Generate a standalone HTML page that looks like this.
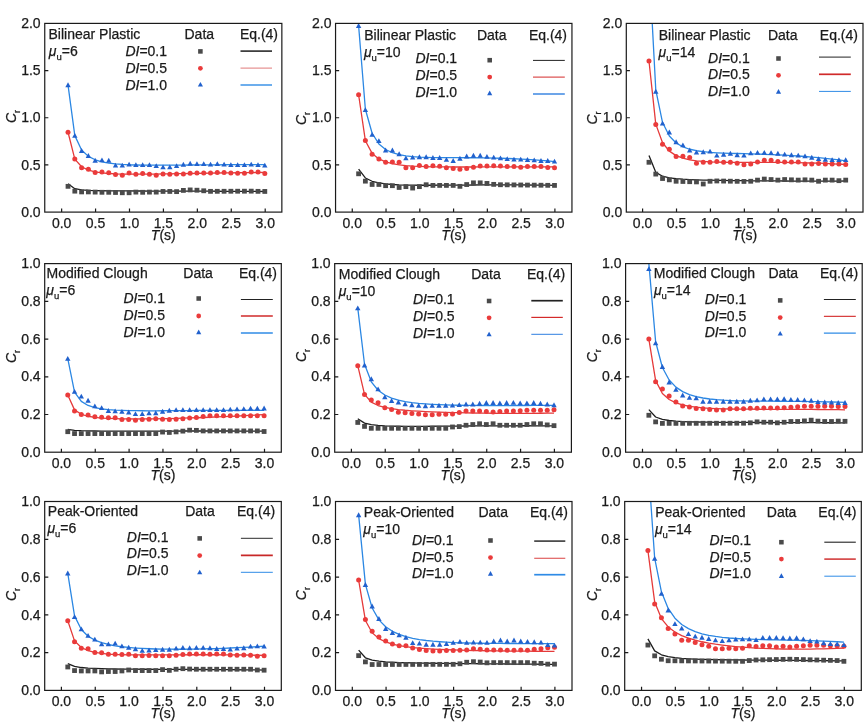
<!DOCTYPE html><html><head><meta charset="utf-8"><style>html,body{margin:0;padding:0;background:#fff;width:866px;height:725px;overflow:hidden;}svg{display:block;}</style></head><body>
<svg width="866" height="725" viewBox="0 0 866 725" style="font-family:'Liberation Sans',Arial,sans-serif"><style>text{stroke:#1a1a1a;stroke-width:0.25px;}</style>
<rect width="866" height="725" fill="#fff"/>
<clipPath id="c00"><rect x="44.75" y="23.4" width="237.14999999999998" height="188.7"/></clipPath>
<g clip-path="url(#c00)">
<polyline points="68.03,183.79 74.81,188.71 81.60,189.88 88.38,190.35 95.17,190.59 101.95,190.73 108.74,190.82 115.52,190.88 122.31,190.92 129.09,190.95 135.88,190.98 142.66,191.00 149.45,191.03 156.23,191.05 163.02,191.06 169.81,191.08 176.59,191.10 183.38,191.13 190.16,191.15 196.95,191.17 203.73,191.20 210.52,191.22 217.30,191.25 224.09,191.28 230.87,191.31 237.66,191.35 244.44,191.39 251.23,191.42 258.01,191.46 264.80,191.51" fill="none" stroke="#1e1e1e" stroke-width="1.3" stroke-linejoin="round"/>
<polyline points="68.03,132.28 74.81,159.07 81.60,166.75 88.38,170.13 95.17,171.90 101.95,172.92 108.74,173.52 115.52,173.87 122.31,174.07 129.09,174.17 135.88,174.20 142.66,174.17 149.45,174.12 156.23,174.04 163.02,173.94 169.81,173.83 176.59,173.72 183.38,173.60 190.16,173.48 196.95,173.36 203.73,173.24 210.52,173.13 217.30,173.02 224.09,172.92 230.87,172.82 237.66,172.73 244.44,172.64 251.23,172.57 258.01,172.50 264.80,172.44" fill="none" stroke="#e53a3a" stroke-width="1.3" stroke-linejoin="round"/>
<polyline points="68.03,85.10 74.81,135.60 81.60,149.99 88.38,156.37 95.17,159.79 101.95,161.81 108.74,163.08 115.52,163.90 122.31,164.43 129.09,164.78 135.88,165.00 142.66,165.13 149.45,165.20 156.23,165.22 163.02,165.21 169.81,165.18 176.59,165.13 183.38,165.07 190.16,165.01 196.95,164.95 203.73,164.89 210.52,164.83 217.30,164.78 224.09,164.74 230.87,164.70 237.66,164.68 244.44,164.66 251.23,164.66 258.01,164.67 264.80,164.69" fill="none" stroke="#2b87e3" stroke-width="1.3" stroke-linejoin="round"/>
<rect x="65.63" y="183.94" width="4.80" height="4.80" fill="#4a4a4a"/>
<rect x="72.41" y="188.75" width="4.80" height="4.80" fill="#4a4a4a"/>
<rect x="79.20" y="189.51" width="4.80" height="4.80" fill="#4a4a4a"/>
<rect x="85.98" y="189.51" width="4.80" height="4.80" fill="#4a4a4a"/>
<rect x="92.77" y="189.70" width="4.80" height="4.80" fill="#4a4a4a"/>
<rect x="99.55" y="189.89" width="4.80" height="4.80" fill="#4a4a4a"/>
<rect x="106.34" y="189.89" width="4.80" height="4.80" fill="#4a4a4a"/>
<rect x="113.12" y="190.08" width="4.80" height="4.80" fill="#4a4a4a"/>
<rect x="119.91" y="190.36" width="4.80" height="4.80" fill="#4a4a4a"/>
<rect x="126.69" y="190.36" width="4.80" height="4.80" fill="#4a4a4a"/>
<rect x="133.48" y="189.70" width="4.80" height="4.80" fill="#4a4a4a"/>
<rect x="140.26" y="189.89" width="4.80" height="4.80" fill="#4a4a4a"/>
<rect x="147.05" y="189.70" width="4.80" height="4.80" fill="#4a4a4a"/>
<rect x="153.83" y="189.70" width="4.80" height="4.80" fill="#4a4a4a"/>
<rect x="160.62" y="189.04" width="4.80" height="4.80" fill="#4a4a4a"/>
<rect x="167.41" y="189.04" width="4.80" height="4.80" fill="#4a4a4a"/>
<rect x="174.19" y="189.23" width="4.80" height="4.80" fill="#4a4a4a"/>
<rect x="180.98" y="188.00" width="4.80" height="4.80" fill="#4a4a4a"/>
<rect x="187.76" y="187.53" width="4.80" height="4.80" fill="#4a4a4a"/>
<rect x="194.55" y="187.81" width="4.80" height="4.80" fill="#4a4a4a"/>
<rect x="201.33" y="188.38" width="4.80" height="4.80" fill="#4a4a4a"/>
<rect x="208.12" y="188.94" width="4.80" height="4.80" fill="#4a4a4a"/>
<rect x="214.90" y="188.91" width="4.80" height="4.80" fill="#4a4a4a"/>
<rect x="221.69" y="188.88" width="4.80" height="4.80" fill="#4a4a4a"/>
<rect x="228.47" y="188.85" width="4.80" height="4.80" fill="#4a4a4a"/>
<rect x="235.26" y="188.82" width="4.80" height="4.80" fill="#4a4a4a"/>
<rect x="242.04" y="188.79" width="4.80" height="4.80" fill="#4a4a4a"/>
<rect x="248.83" y="188.75" width="4.80" height="4.80" fill="#4a4a4a"/>
<rect x="255.61" y="188.94" width="4.80" height="4.80" fill="#4a4a4a"/>
<rect x="262.40" y="189.04" width="4.80" height="4.80" fill="#4a4a4a"/>
<circle cx="68.03" cy="132.28" r="2.50" fill="#ea3b3b"/>
<circle cx="74.81" cy="158.89" r="2.50" fill="#ea3b3b"/>
<circle cx="81.60" cy="167.66" r="2.50" fill="#ea3b3b"/>
<circle cx="88.38" cy="169.27" r="2.50" fill="#ea3b3b"/>
<circle cx="95.17" cy="172.57" r="2.50" fill="#ea3b3b"/>
<circle cx="101.95" cy="172.00" r="2.50" fill="#ea3b3b"/>
<circle cx="108.74" cy="172.66" r="2.50" fill="#ea3b3b"/>
<circle cx="115.52" cy="174.55" r="2.50" fill="#ea3b3b"/>
<circle cx="122.31" cy="175.30" r="2.50" fill="#ea3b3b"/>
<circle cx="129.09" cy="172.94" r="2.50" fill="#ea3b3b"/>
<circle cx="135.88" cy="174.36" r="2.50" fill="#ea3b3b"/>
<circle cx="142.66" cy="173.42" r="2.50" fill="#ea3b3b"/>
<circle cx="149.45" cy="174.36" r="2.50" fill="#ea3b3b"/>
<circle cx="156.23" cy="175.30" r="2.50" fill="#ea3b3b"/>
<circle cx="163.02" cy="173.89" r="2.50" fill="#ea3b3b"/>
<circle cx="169.81" cy="174.36" r="2.50" fill="#ea3b3b"/>
<circle cx="176.59" cy="174.08" r="2.50" fill="#ea3b3b"/>
<circle cx="183.38" cy="173.89" r="2.50" fill="#ea3b3b"/>
<circle cx="190.16" cy="173.13" r="2.50" fill="#ea3b3b"/>
<circle cx="196.95" cy="172.94" r="2.50" fill="#ea3b3b"/>
<circle cx="203.73" cy="172.94" r="2.50" fill="#ea3b3b"/>
<circle cx="210.52" cy="172.94" r="2.50" fill="#ea3b3b"/>
<circle cx="217.30" cy="172.47" r="2.50" fill="#ea3b3b"/>
<circle cx="224.09" cy="172.47" r="2.50" fill="#ea3b3b"/>
<circle cx="230.87" cy="172.94" r="2.50" fill="#ea3b3b"/>
<circle cx="237.66" cy="173.13" r="2.50" fill="#ea3b3b"/>
<circle cx="244.44" cy="173.13" r="2.50" fill="#ea3b3b"/>
<circle cx="251.23" cy="171.91" r="2.50" fill="#ea3b3b"/>
<circle cx="258.01" cy="171.91" r="2.50" fill="#ea3b3b"/>
<circle cx="264.80" cy="173.42" r="2.50" fill="#ea3b3b"/>
<path d="M65.33,87.23L70.73,87.23L68.03,82.37Z" fill="#2161cd"/>
<path d="M72.11,137.81L77.51,137.81L74.81,132.95Z" fill="#2161cd"/>
<path d="M78.90,152.90L84.30,152.90L81.60,148.04Z" fill="#2161cd"/>
<path d="M85.68,157.90L91.08,157.90L88.38,153.04Z" fill="#2161cd"/>
<path d="M92.47,162.71L97.87,162.71L95.17,157.85Z" fill="#2161cd"/>
<path d="M99.25,162.34L104.65,162.34L101.95,157.48Z" fill="#2161cd"/>
<path d="M106.04,162.71L111.44,162.71L108.74,157.85Z" fill="#2161cd"/>
<path d="M112.82,167.62L118.22,167.62L115.52,162.76Z" fill="#2161cd"/>
<path d="M119.61,167.62L125.01,167.62L122.31,162.76Z" fill="#2161cd"/>
<path d="M126.39,166.49L131.79,166.49L129.09,161.63Z" fill="#2161cd"/>
<path d="M133.18,167.06L138.58,167.06L135.88,162.19Z" fill="#2161cd"/>
<path d="M139.96,167.06L145.36,167.06L142.66,162.19Z" fill="#2161cd"/>
<path d="M146.75,167.06L152.15,167.06L149.45,162.19Z" fill="#2161cd"/>
<path d="M153.53,168.09L158.93,168.09L156.23,163.23Z" fill="#2161cd"/>
<path d="M160.32,169.32L165.72,169.32L163.02,164.46Z" fill="#2161cd"/>
<path d="M167.11,169.32L172.51,169.32L169.81,164.46Z" fill="#2161cd"/>
<path d="M173.89,168.00L179.29,168.00L176.59,163.14Z" fill="#2161cd"/>
<path d="M180.68,166.68L186.08,166.68L183.38,161.82Z" fill="#2161cd"/>
<path d="M187.46,165.73L192.86,165.73L190.16,160.87Z" fill="#2161cd"/>
<path d="M194.25,166.11L199.65,166.11L196.95,161.25Z" fill="#2161cd"/>
<path d="M201.03,166.11L206.43,166.11L203.73,161.25Z" fill="#2161cd"/>
<path d="M207.82,166.49L213.22,166.49L210.52,161.63Z" fill="#2161cd"/>
<path d="M214.60,166.11L220.00,166.11L217.30,161.25Z" fill="#2161cd"/>
<path d="M221.39,166.49L226.79,166.49L224.09,161.63Z" fill="#2161cd"/>
<path d="M228.17,167.06L233.57,167.06L230.87,162.19Z" fill="#2161cd"/>
<path d="M234.96,167.06L240.36,167.06L237.66,162.19Z" fill="#2161cd"/>
<path d="M241.74,167.06L247.14,167.06L244.44,162.19Z" fill="#2161cd"/>
<path d="M248.53,166.49L253.93,166.49L251.23,161.63Z" fill="#2161cd"/>
<path d="M255.31,167.06L260.71,167.06L258.01,162.19Z" fill="#2161cd"/>
<path d="M262.10,167.53L267.50,167.53L264.80,162.67Z" fill="#2161cd"/>
</g>
<rect x="44.75" y="23.4" width="237.1" height="188.7" fill="none" stroke="#1a1a1a" stroke-width="1.2"/>
<text x="61.64" y="227.50" font-size="14.0" text-anchor="middle" fill="#1a1a1a">0.0</text>
<text x="95.57" y="227.50" font-size="14.0" text-anchor="middle" fill="#1a1a1a">0.5</text>
<text x="129.49" y="227.50" font-size="14.0" text-anchor="middle" fill="#1a1a1a">1.0</text>
<text x="163.42" y="227.50" font-size="14.0" text-anchor="middle" fill="#1a1a1a">1.5</text>
<text x="197.35" y="227.50" font-size="14.0" text-anchor="middle" fill="#1a1a1a">2.0</text>
<text x="231.27" y="227.50" font-size="14.0" text-anchor="middle" fill="#1a1a1a">2.5</text>
<text x="265.20" y="227.50" font-size="14.0" text-anchor="middle" fill="#1a1a1a">3.0</text>
<text x="40.65" y="216.80" font-size="14.0" text-anchor="end" fill="#1a1a1a">0.0</text>
<text x="40.65" y="169.62" font-size="14.0" text-anchor="end" fill="#1a1a1a">0.5</text>
<text x="40.65" y="122.45" font-size="14.0" text-anchor="end" fill="#1a1a1a">1.0</text>
<text x="40.65" y="75.28" font-size="14.0" text-anchor="end" fill="#1a1a1a">1.5</text>
<text x="40.65" y="28.10" font-size="14.0" text-anchor="end" fill="#1a1a1a">2.0</text>
<path d="M61.64,212.10v-3.6 M95.57,212.10v-3.6 M129.49,212.10v-3.6 M163.42,212.10v-3.6 M197.35,212.10v-3.6 M231.27,212.10v-3.6 M265.20,212.10v-3.6 M44.75,164.93h3.6 M44.75,117.75h3.6 M44.75,70.58h3.6" stroke="#1a1a1a" stroke-width="1.2" fill="none"/>
<text transform="translate(15.95,123.00) rotate(-90)" font-size="14.0" fill="#1a1a1a"><tspan font-style="italic">C</tspan><tspan font-size="9" dy="3.8">r</tspan></text>
<text x="163.32" y="239.80" font-size="14.0" text-anchor="middle" fill="#1a1a1a"><tspan font-style="italic">T</tspan>(s)</text>
<text x="48.50" y="38.80" font-size="14.0" fill="#1a1a1a">Bilinear Plastic</text>
<text x="48.80" y="55.80" font-size="14.0" fill="#1a1a1a"><tspan font-style="italic">μ</tspan><tspan font-size="9.5" dy="4">u</tspan><tspan dy="-4">=6</tspan></text>
<text x="125.40" y="55.80" font-size="14.0" fill="#1a1a1a"><tspan font-style="italic">DI</tspan>=0.1</text>
<text x="125.40" y="73.10" font-size="14.0" fill="#1a1a1a"><tspan font-style="italic">DI</tspan>=0.5</text>
<text x="125.40" y="90.10" font-size="14.0" fill="#1a1a1a"><tspan font-style="italic">DI</tspan>=1.0</text>
<text x="184.50" y="38.50" font-size="14.0" fill="#1a1a1a">Data</text>
<text x="239.90" y="38.50" font-size="14.0" fill="#1a1a1a">Eq.(4)</text>
<rect x="198.12" y="49.12" width="4.56" height="4.56" fill="#4a4a4a"/>
<line x1="240.50" y1="51.10" x2="272.00" y2="51.10" stroke="#2a2a2a" stroke-width="1.6"/>
<circle cx="200.40" cy="68.30" r="2.38" fill="#ea3b3b"/>
<line x1="240.50" y1="68.10" x2="272.00" y2="68.10" stroke="#e07a7a" stroke-width="1.0"/>
<path d="M197.84,86.61L202.97,86.61L200.40,81.99Z" fill="#2161cd"/>
<line x1="240.50" y1="85.00" x2="272.00" y2="85.00" stroke="#2f8be6" stroke-width="1.4"/>
<clipPath id="c01"><rect x="335.55" y="23.4" width="236.45" height="188.7"/></clipPath>
<g clip-path="url(#c01)">
<polyline points="358.61,169.08 365.37,177.97 372.12,181.29 378.88,182.97 385.63,183.93 392.39,184.50 399.14,184.86 405.90,185.07 412.65,185.19 419.41,185.25 426.16,185.26 432.92,185.25 439.67,185.22 446.43,185.17 453.18,185.12 459.93,185.07 466.69,185.03 473.44,184.98 480.20,184.94 486.95,184.91 493.71,184.89 500.46,184.89 507.22,184.89 513.97,184.91 520.73,184.93 527.48,184.98 534.24,185.04 540.99,185.11 547.75,185.20 554.50,185.30" fill="none" stroke="#1e1e1e" stroke-width="1.3" stroke-linejoin="round"/>
<polyline points="358.61,94.73 365.37,140.71 372.12,153.39 378.88,158.93 385.63,161.90 392.39,163.66 399.14,164.78 405.90,165.53 412.65,166.03 419.41,166.38 426.16,166.62 432.92,166.78 439.67,166.88 446.43,166.95 453.18,166.98 459.93,167.00 466.69,167.00 473.44,166.99 480.20,166.97 486.95,166.94 493.71,166.92 500.46,166.89 507.22,166.87 513.97,166.84 520.73,166.82 527.48,166.80 534.24,166.79 540.99,166.78 547.75,166.78 554.50,166.78" fill="none" stroke="#e53a3a" stroke-width="1.3" stroke-linejoin="round"/>
<polyline points="358.61,25.76 365.37,109.23 372.12,133.27 378.88,143.88 385.63,149.48 392.39,152.72 399.14,154.69 405.90,155.91 412.65,156.67 419.41,157.14 426.16,157.42 432.92,157.58 439.67,157.65 446.43,157.69 453.18,157.70 459.93,157.71 466.69,157.73 473.44,157.77 480.20,157.84 486.95,157.94 493.71,158.08 500.46,158.26 507.22,158.49 513.97,158.76 520.73,159.09 527.48,159.47 534.24,159.91 540.99,160.40 547.75,160.94 554.50,161.55" fill="none" stroke="#2b87e3" stroke-width="1.3" stroke-linejoin="round"/>
<rect x="356.21" y="171.39" width="4.80" height="4.80" fill="#4a4a4a"/>
<rect x="362.97" y="178.75" width="4.80" height="4.80" fill="#4a4a4a"/>
<rect x="369.72" y="182.06" width="4.80" height="4.80" fill="#4a4a4a"/>
<rect x="376.48" y="182.06" width="4.80" height="4.80" fill="#4a4a4a"/>
<rect x="383.23" y="183.28" width="4.80" height="4.80" fill="#4a4a4a"/>
<rect x="389.99" y="183.28" width="4.80" height="4.80" fill="#4a4a4a"/>
<rect x="396.74" y="185.07" width="4.80" height="4.80" fill="#4a4a4a"/>
<rect x="403.50" y="184.23" width="4.80" height="4.80" fill="#4a4a4a"/>
<rect x="410.25" y="185.64" width="4.80" height="4.80" fill="#4a4a4a"/>
<rect x="417.01" y="184.23" width="4.80" height="4.80" fill="#4a4a4a"/>
<rect x="423.76" y="182.34" width="4.80" height="4.80" fill="#4a4a4a"/>
<rect x="430.52" y="183.00" width="4.80" height="4.80" fill="#4a4a4a"/>
<rect x="437.27" y="183.00" width="4.80" height="4.80" fill="#4a4a4a"/>
<rect x="444.03" y="183.00" width="4.80" height="4.80" fill="#4a4a4a"/>
<rect x="450.78" y="183.00" width="4.80" height="4.80" fill="#4a4a4a"/>
<rect x="457.53" y="183.94" width="4.80" height="4.80" fill="#4a4a4a"/>
<rect x="464.29" y="182.15" width="4.80" height="4.80" fill="#4a4a4a"/>
<rect x="471.04" y="180.45" width="4.80" height="4.80" fill="#4a4a4a"/>
<rect x="477.80" y="180.45" width="4.80" height="4.80" fill="#4a4a4a"/>
<rect x="484.55" y="181.02" width="4.80" height="4.80" fill="#4a4a4a"/>
<rect x="491.31" y="181.96" width="4.80" height="4.80" fill="#4a4a4a"/>
<rect x="498.06" y="182.34" width="4.80" height="4.80" fill="#4a4a4a"/>
<rect x="504.82" y="182.42" width="4.80" height="4.80" fill="#4a4a4a"/>
<rect x="511.57" y="182.50" width="4.80" height="4.80" fill="#4a4a4a"/>
<rect x="518.33" y="182.59" width="4.80" height="4.80" fill="#4a4a4a"/>
<rect x="525.08" y="182.67" width="4.80" height="4.80" fill="#4a4a4a"/>
<rect x="531.84" y="182.75" width="4.80" height="4.80" fill="#4a4a4a"/>
<rect x="538.59" y="182.83" width="4.80" height="4.80" fill="#4a4a4a"/>
<rect x="545.35" y="182.92" width="4.80" height="4.80" fill="#4a4a4a"/>
<rect x="552.10" y="183.00" width="4.80" height="4.80" fill="#4a4a4a"/>
<circle cx="358.61" cy="94.73" r="2.50" fill="#ea3b3b"/>
<circle cx="365.37" cy="140.39" r="2.50" fill="#ea3b3b"/>
<circle cx="372.12" cy="154.36" r="2.50" fill="#ea3b3b"/>
<circle cx="378.88" cy="159.08" r="2.50" fill="#ea3b3b"/>
<circle cx="385.63" cy="162.19" r="2.50" fill="#ea3b3b"/>
<circle cx="392.39" cy="161.91" r="2.50" fill="#ea3b3b"/>
<circle cx="399.14" cy="162.19" r="2.50" fill="#ea3b3b"/>
<circle cx="405.90" cy="167.66" r="2.50" fill="#ea3b3b"/>
<circle cx="412.65" cy="167.66" r="2.50" fill="#ea3b3b"/>
<circle cx="419.41" cy="165.49" r="2.50" fill="#ea3b3b"/>
<circle cx="426.16" cy="166.43" r="2.50" fill="#ea3b3b"/>
<circle cx="432.92" cy="165.68" r="2.50" fill="#ea3b3b"/>
<circle cx="439.67" cy="166.25" r="2.50" fill="#ea3b3b"/>
<circle cx="446.43" cy="167.66" r="2.50" fill="#ea3b3b"/>
<circle cx="453.18" cy="168.51" r="2.50" fill="#ea3b3b"/>
<circle cx="459.93" cy="169.17" r="2.50" fill="#ea3b3b"/>
<circle cx="466.69" cy="168.51" r="2.50" fill="#ea3b3b"/>
<circle cx="473.44" cy="167.19" r="2.50" fill="#ea3b3b"/>
<circle cx="480.20" cy="166.06" r="2.50" fill="#ea3b3b"/>
<circle cx="486.95" cy="166.06" r="2.50" fill="#ea3b3b"/>
<circle cx="493.71" cy="165.68" r="2.50" fill="#ea3b3b"/>
<circle cx="500.46" cy="166.06" r="2.50" fill="#ea3b3b"/>
<circle cx="507.22" cy="166.43" r="2.50" fill="#ea3b3b"/>
<circle cx="513.97" cy="166.43" r="2.50" fill="#ea3b3b"/>
<circle cx="520.73" cy="167.19" r="2.50" fill="#ea3b3b"/>
<circle cx="527.48" cy="166.43" r="2.50" fill="#ea3b3b"/>
<circle cx="534.24" cy="166.43" r="2.50" fill="#ea3b3b"/>
<circle cx="540.99" cy="166.43" r="2.50" fill="#ea3b3b"/>
<circle cx="547.75" cy="167.38" r="2.50" fill="#ea3b3b"/>
<circle cx="554.50" cy="167.76" r="2.50" fill="#ea3b3b"/>
<path d="M355.91,27.89L361.31,27.89L358.61,23.03Z" fill="#2161cd"/>
<path d="M362.67,112.05L368.07,112.05L365.37,107.19Z" fill="#2161cd"/>
<path d="M369.42,136.77L374.82,136.77L372.12,131.91Z" fill="#2161cd"/>
<path d="M376.18,143.09L381.58,143.09L378.88,138.23Z" fill="#2161cd"/>
<path d="M382.93,152.43L388.33,152.43L385.63,147.57Z" fill="#2161cd"/>
<path d="M389.69,152.43L395.09,152.43L392.39,147.57Z" fill="#2161cd"/>
<path d="M396.44,156.20L401.84,156.20L399.14,151.34Z" fill="#2161cd"/>
<path d="M403.20,160.26L408.60,160.26L405.90,155.40Z" fill="#2161cd"/>
<path d="M409.95,159.51L415.35,159.51L412.65,154.65Z" fill="#2161cd"/>
<path d="M416.71,159.22L422.11,159.22L419.41,154.36Z" fill="#2161cd"/>
<path d="M423.46,159.22L428.86,159.22L426.16,154.36Z" fill="#2161cd"/>
<path d="M430.22,159.88L435.62,159.88L432.92,155.02Z" fill="#2161cd"/>
<path d="M436.97,159.88L442.37,159.88L439.67,155.02Z" fill="#2161cd"/>
<path d="M443.73,161.87L449.13,161.87L446.43,157.01Z" fill="#2161cd"/>
<path d="M450.48,162.90L455.88,162.90L453.18,158.04Z" fill="#2161cd"/>
<path d="M457.23,160.73L462.63,160.73L459.93,155.87Z" fill="#2161cd"/>
<path d="M463.99,158.47L469.39,158.47L466.69,153.61Z" fill="#2161cd"/>
<path d="M470.74,157.71L476.14,157.71L473.44,152.85Z" fill="#2161cd"/>
<path d="M477.50,157.71L482.90,157.71L480.20,152.85Z" fill="#2161cd"/>
<path d="M484.25,158.75L489.65,158.75L486.95,153.89Z" fill="#2161cd"/>
<path d="M491.01,159.51L496.41,159.51L493.71,154.65Z" fill="#2161cd"/>
<path d="M497.76,160.36L503.16,160.36L500.46,155.50Z" fill="#2161cd"/>
<path d="M504.52,161.11L509.92,161.11L507.22,156.25Z" fill="#2161cd"/>
<path d="M511.27,161.58L516.67,161.58L513.97,156.72Z" fill="#2161cd"/>
<path d="M518.03,161.58L523.43,161.58L520.73,156.72Z" fill="#2161cd"/>
<path d="M524.78,161.96L530.18,161.96L527.48,157.10Z" fill="#2161cd"/>
<path d="M531.54,162.34L536.94,162.34L534.24,157.48Z" fill="#2161cd"/>
<path d="M538.29,162.90L543.69,162.90L540.99,158.04Z" fill="#2161cd"/>
<path d="M545.05,162.90L550.45,162.90L547.75,158.04Z" fill="#2161cd"/>
<path d="M551.80,163.56L557.20,163.56L554.50,158.70Z" fill="#2161cd"/>
</g>
<rect x="335.55" y="23.4" width="236.4" height="188.7" fill="none" stroke="#1a1a1a" stroke-width="1.2"/>
<text x="352.26" y="227.50" font-size="14.0" text-anchor="middle" fill="#1a1a1a">0.0</text>
<text x="386.03" y="227.50" font-size="14.0" text-anchor="middle" fill="#1a1a1a">0.5</text>
<text x="419.81" y="227.50" font-size="14.0" text-anchor="middle" fill="#1a1a1a">1.0</text>
<text x="453.58" y="227.50" font-size="14.0" text-anchor="middle" fill="#1a1a1a">1.5</text>
<text x="487.35" y="227.50" font-size="14.0" text-anchor="middle" fill="#1a1a1a">2.0</text>
<text x="521.13" y="227.50" font-size="14.0" text-anchor="middle" fill="#1a1a1a">2.5</text>
<text x="554.90" y="227.50" font-size="14.0" text-anchor="middle" fill="#1a1a1a">3.0</text>
<text x="331.45" y="216.80" font-size="14.0" text-anchor="end" fill="#1a1a1a">0.0</text>
<text x="331.45" y="169.62" font-size="14.0" text-anchor="end" fill="#1a1a1a">0.5</text>
<text x="331.45" y="122.45" font-size="14.0" text-anchor="end" fill="#1a1a1a">1.0</text>
<text x="331.45" y="75.28" font-size="14.0" text-anchor="end" fill="#1a1a1a">1.5</text>
<text x="331.45" y="28.10" font-size="14.0" text-anchor="end" fill="#1a1a1a">2.0</text>
<path d="M352.26,212.10v-3.6 M386.03,212.10v-3.6 M419.81,212.10v-3.6 M453.58,212.10v-3.6 M487.35,212.10v-3.6 M521.13,212.10v-3.6 M554.90,212.10v-3.6 M335.55,164.93h3.6 M335.55,117.75h3.6 M335.55,70.58h3.6" stroke="#1a1a1a" stroke-width="1.2" fill="none"/>
<text transform="translate(305.75,125.05) rotate(-90)" font-size="14.0" fill="#1a1a1a"><tspan font-style="italic">C</tspan><tspan font-size="9" dy="3.8">r</tspan></text>
<text x="453.77" y="239.80" font-size="14.0" text-anchor="middle" fill="#1a1a1a"><tspan font-style="italic">T</tspan>(s)</text>
<text x="364.20" y="40.20" font-size="14.0" fill="#1a1a1a">Bilinear Plastic</text>
<text x="363.90" y="56.90" font-size="14.0" fill="#1a1a1a"><tspan font-style="italic">μ</tspan><tspan font-size="9.5" dy="4">u</tspan><tspan dy="-4">=10</tspan></text>
<text x="415.50" y="63.40" font-size="14.0" fill="#1a1a1a"><tspan font-style="italic">DI</tspan>=0.1</text>
<text x="415.50" y="80.00" font-size="14.0" fill="#1a1a1a"><tspan font-style="italic">DI</tspan>=0.5</text>
<text x="415.50" y="96.60" font-size="14.0" fill="#1a1a1a"><tspan font-style="italic">DI</tspan>=1.0</text>
<text x="476.90" y="40.40" font-size="14.0" fill="#1a1a1a">Data</text>
<text x="528.90" y="40.40" font-size="14.0" fill="#1a1a1a">Eq.(4)</text>
<rect x="487.42" y="57.92" width="4.56" height="4.56" fill="#4a4a4a"/>
<line x1="533.00" y1="60.40" x2="564.80" y2="60.40" stroke="#222" stroke-width="1.0"/>
<circle cx="489.70" cy="77.10" r="2.38" fill="#ea3b3b"/>
<line x1="533.00" y1="77.10" x2="564.80" y2="77.10" stroke="#d42a2a" stroke-width="1.0"/>
<path d="M487.13,95.21L492.26,95.21L489.70,90.59Z" fill="#2161cd"/>
<line x1="533.00" y1="94.00" x2="564.80" y2="94.00" stroke="#2f7fe0" stroke-width="1.4"/>
<clipPath id="c02"><rect x="626.3" y="23.4" width="236.70000000000005" height="188.7"/></clipPath>
<g clip-path="url(#c02)">
<polyline points="648.98,155.40 655.77,172.34 662.55,176.23 669.33,177.82 676.12,178.67 682.90,179.19 689.68,179.55 696.47,179.82 703.25,180.03 710.03,180.19 716.82,180.33 723.60,180.45 730.38,180.55 737.17,180.64 743.95,180.72 750.73,180.79 757.52,180.84 764.30,180.89 771.08,180.94 777.87,180.97 784.65,181.00 791.43,181.03 798.22,181.05 805.00,181.06 811.78,181.06 818.57,181.07 825.35,181.06 832.13,181.05 838.92,181.04 845.70,181.02" fill="none" stroke="#1e1e1e" stroke-width="1.3" stroke-linejoin="round"/>
<polyline points="648.98,60.95 655.77,124.15 662.55,142.78 669.33,151.14 676.12,155.60 682.90,158.21 689.68,159.82 696.47,160.83 703.25,161.46 710.03,161.86 716.82,162.10 723.60,162.23 730.38,162.29 737.17,162.32 743.95,162.32 750.73,162.31 757.52,162.30 764.30,162.30 771.08,162.32 777.87,162.35 784.65,162.42 791.43,162.51 798.22,162.63 805.00,162.79 811.78,162.98 818.57,163.21 825.35,163.47 832.13,163.78 838.92,164.12 845.70,164.51" fill="none" stroke="#e53a3a" stroke-width="1.3" stroke-linejoin="round"/>
<polyline points="648.98,-37.93 655.77,89.78 662.55,122.51 669.33,136.08 676.12,142.97 682.90,146.88 689.68,149.25 696.47,150.74 703.25,151.71 710.03,152.35 716.82,152.78 723.60,153.09 730.38,153.32 737.17,153.51 743.95,153.69 750.73,153.86 757.52,154.06 764.30,154.28 771.08,154.53 777.87,154.83 784.65,155.17 791.43,155.56 798.22,156.01 805.00,156.51 811.78,157.06 818.57,157.68 825.35,158.36 832.13,159.10 838.92,159.91 845.70,160.77" fill="none" stroke="#2b87e3" stroke-width="1.3" stroke-linejoin="round"/>
<rect x="646.58" y="159.88" width="4.80" height="4.80" fill="#4a4a4a"/>
<rect x="653.37" y="171.68" width="4.80" height="4.80" fill="#4a4a4a"/>
<rect x="660.15" y="176.11" width="4.80" height="4.80" fill="#4a4a4a"/>
<rect x="666.93" y="177.43" width="4.80" height="4.80" fill="#4a4a4a"/>
<rect x="673.72" y="178.85" width="4.80" height="4.80" fill="#4a4a4a"/>
<rect x="680.50" y="179.07" width="4.80" height="4.80" fill="#4a4a4a"/>
<rect x="687.28" y="179.29" width="4.80" height="4.80" fill="#4a4a4a"/>
<rect x="694.07" y="179.51" width="4.80" height="4.80" fill="#4a4a4a"/>
<rect x="700.85" y="181.58" width="4.80" height="4.80" fill="#4a4a4a"/>
<rect x="707.63" y="178.85" width="4.80" height="4.80" fill="#4a4a4a"/>
<rect x="714.42" y="178.56" width="4.80" height="4.80" fill="#4a4a4a"/>
<rect x="721.20" y="178.68" width="4.80" height="4.80" fill="#4a4a4a"/>
<rect x="727.98" y="178.80" width="4.80" height="4.80" fill="#4a4a4a"/>
<rect x="734.77" y="178.92" width="4.80" height="4.80" fill="#4a4a4a"/>
<rect x="741.55" y="179.04" width="4.80" height="4.80" fill="#4a4a4a"/>
<rect x="748.33" y="178.85" width="4.80" height="4.80" fill="#4a4a4a"/>
<rect x="755.12" y="177.72" width="4.80" height="4.80" fill="#4a4a4a"/>
<rect x="761.90" y="176.68" width="4.80" height="4.80" fill="#4a4a4a"/>
<rect x="768.68" y="177.15" width="4.80" height="4.80" fill="#4a4a4a"/>
<rect x="775.47" y="177.72" width="4.80" height="4.80" fill="#4a4a4a"/>
<rect x="782.25" y="177.15" width="4.80" height="4.80" fill="#4a4a4a"/>
<rect x="789.03" y="177.43" width="4.80" height="4.80" fill="#4a4a4a"/>
<rect x="795.82" y="177.72" width="4.80" height="4.80" fill="#4a4a4a"/>
<rect x="802.60" y="177.43" width="4.80" height="4.80" fill="#4a4a4a"/>
<rect x="809.38" y="177.72" width="4.80" height="4.80" fill="#4a4a4a"/>
<rect x="816.17" y="178.85" width="4.80" height="4.80" fill="#4a4a4a"/>
<rect x="822.95" y="177.72" width="4.80" height="4.80" fill="#4a4a4a"/>
<rect x="829.73" y="177.72" width="4.80" height="4.80" fill="#4a4a4a"/>
<rect x="836.52" y="178.28" width="4.80" height="4.80" fill="#4a4a4a"/>
<rect x="843.30" y="177.72" width="4.80" height="4.80" fill="#4a4a4a"/>
<circle cx="648.98" cy="60.95" r="2.50" fill="#ea3b3b"/>
<circle cx="655.77" cy="124.45" r="2.50" fill="#ea3b3b"/>
<circle cx="662.55" cy="144.17" r="2.50" fill="#ea3b3b"/>
<circle cx="669.33" cy="149.26" r="2.50" fill="#ea3b3b"/>
<circle cx="676.12" cy="156.53" r="2.50" fill="#ea3b3b"/>
<circle cx="682.90" cy="156.15" r="2.50" fill="#ea3b3b"/>
<circle cx="689.68" cy="157.47" r="2.50" fill="#ea3b3b"/>
<circle cx="696.47" cy="163.32" r="2.50" fill="#ea3b3b"/>
<circle cx="703.25" cy="162.28" r="2.50" fill="#ea3b3b"/>
<circle cx="710.03" cy="162.28" r="2.50" fill="#ea3b3b"/>
<circle cx="716.82" cy="161.62" r="2.50" fill="#ea3b3b"/>
<circle cx="723.60" cy="162.28" r="2.50" fill="#ea3b3b"/>
<circle cx="730.38" cy="162.28" r="2.50" fill="#ea3b3b"/>
<circle cx="737.17" cy="163.32" r="2.50" fill="#ea3b3b"/>
<circle cx="743.95" cy="164.74" r="2.50" fill="#ea3b3b"/>
<circle cx="750.73" cy="163.98" r="2.50" fill="#ea3b3b"/>
<circle cx="757.52" cy="161.91" r="2.50" fill="#ea3b3b"/>
<circle cx="764.30" cy="160.30" r="2.50" fill="#ea3b3b"/>
<circle cx="771.08" cy="160.30" r="2.50" fill="#ea3b3b"/>
<circle cx="777.87" cy="161.43" r="2.50" fill="#ea3b3b"/>
<circle cx="784.65" cy="161.91" r="2.50" fill="#ea3b3b"/>
<circle cx="791.43" cy="161.91" r="2.50" fill="#ea3b3b"/>
<circle cx="798.22" cy="161.91" r="2.50" fill="#ea3b3b"/>
<circle cx="805.00" cy="163.89" r="2.50" fill="#ea3b3b"/>
<circle cx="811.78" cy="163.89" r="2.50" fill="#ea3b3b"/>
<circle cx="818.57" cy="163.51" r="2.50" fill="#ea3b3b"/>
<circle cx="825.35" cy="163.89" r="2.50" fill="#ea3b3b"/>
<circle cx="832.13" cy="163.89" r="2.50" fill="#ea3b3b"/>
<circle cx="838.92" cy="163.89" r="2.50" fill="#ea3b3b"/>
<circle cx="845.70" cy="164.45" r="2.50" fill="#ea3b3b"/>
<path d="M646.28,-35.80L651.68,-35.80L648.98,-40.66Z" fill="#2161cd"/>
<path d="M653.07,93.65L658.47,93.65L655.77,88.79Z" fill="#2161cd"/>
<path d="M659.85,125.54L665.25,125.54L662.55,120.68Z" fill="#2161cd"/>
<path d="M666.63,134.41L672.03,134.41L669.33,129.55Z" fill="#2161cd"/>
<path d="M673.42,144.13L678.82,144.13L676.12,139.27Z" fill="#2161cd"/>
<path d="M680.20,147.24L685.60,147.24L682.90,142.38Z" fill="#2161cd"/>
<path d="M686.98,152.43L692.38,152.43L689.68,147.57Z" fill="#2161cd"/>
<path d="M693.77,154.51L699.17,154.51L696.47,149.65Z" fill="#2161cd"/>
<path d="M700.55,154.13L705.95,154.13L703.25,149.27Z" fill="#2161cd"/>
<path d="M707.33,153.56L712.73,153.56L710.03,148.70Z" fill="#2161cd"/>
<path d="M714.12,157.62L719.52,157.62L716.82,152.76Z" fill="#2161cd"/>
<path d="M720.90,156.68L726.30,156.68L723.60,151.82Z" fill="#2161cd"/>
<path d="M727.68,155.73L733.08,155.73L730.38,150.87Z" fill="#2161cd"/>
<path d="M734.47,157.15L739.87,157.15L737.17,152.29Z" fill="#2161cd"/>
<path d="M741.25,157.62L746.65,157.62L743.95,152.76Z" fill="#2161cd"/>
<path d="M748.03,155.36L753.43,155.36L750.73,150.50Z" fill="#2161cd"/>
<path d="M754.82,154.79L760.22,154.79L757.52,149.93Z" fill="#2161cd"/>
<path d="M761.60,154.79L767.00,154.79L764.30,149.93Z" fill="#2161cd"/>
<path d="M768.38,155.07L773.78,155.07L771.08,150.21Z" fill="#2161cd"/>
<path d="M775.17,155.73L780.57,155.73L777.87,150.87Z" fill="#2161cd"/>
<path d="M781.95,156.49L787.35,156.49L784.65,151.63Z" fill="#2161cd"/>
<path d="M788.73,157.15L794.13,157.15L791.43,152.29Z" fill="#2161cd"/>
<path d="M795.52,157.62L800.92,157.62L798.22,152.76Z" fill="#2161cd"/>
<path d="M802.30,158.37L807.70,158.37L805.00,153.51Z" fill="#2161cd"/>
<path d="M809.08,159.70L814.48,159.70L811.78,154.84Z" fill="#2161cd"/>
<path d="M815.87,161.11L821.27,161.11L818.57,156.25Z" fill="#2161cd"/>
<path d="M822.65,161.68L828.05,161.68L825.35,156.82Z" fill="#2161cd"/>
<path d="M829.43,162.05L834.83,162.05L832.13,157.19Z" fill="#2161cd"/>
<path d="M836.22,162.05L841.62,162.05L838.92,157.19Z" fill="#2161cd"/>
<path d="M843.00,162.05L848.40,162.05L845.70,157.19Z" fill="#2161cd"/>
</g>
<rect x="626.3" y="23.4" width="236.7" height="188.7" fill="none" stroke="#1a1a1a" stroke-width="1.2"/>
<text x="642.60" y="227.50" font-size="14.0" text-anchor="middle" fill="#1a1a1a">0.0</text>
<text x="676.52" y="227.50" font-size="14.0" text-anchor="middle" fill="#1a1a1a">0.5</text>
<text x="710.43" y="227.50" font-size="14.0" text-anchor="middle" fill="#1a1a1a">1.0</text>
<text x="744.35" y="227.50" font-size="14.0" text-anchor="middle" fill="#1a1a1a">1.5</text>
<text x="778.27" y="227.50" font-size="14.0" text-anchor="middle" fill="#1a1a1a">2.0</text>
<text x="812.18" y="227.50" font-size="14.0" text-anchor="middle" fill="#1a1a1a">2.5</text>
<text x="846.10" y="227.50" font-size="14.0" text-anchor="middle" fill="#1a1a1a">3.0</text>
<text x="622.20" y="216.80" font-size="14.0" text-anchor="end" fill="#1a1a1a">0.0</text>
<text x="622.20" y="169.62" font-size="14.0" text-anchor="end" fill="#1a1a1a">0.5</text>
<text x="622.20" y="122.45" font-size="14.0" text-anchor="end" fill="#1a1a1a">1.0</text>
<text x="622.20" y="75.28" font-size="14.0" text-anchor="end" fill="#1a1a1a">1.5</text>
<text x="622.20" y="28.10" font-size="14.0" text-anchor="end" fill="#1a1a1a">2.0</text>
<path d="M642.60,212.10v-3.6 M676.52,212.10v-3.6 M710.43,212.10v-3.6 M744.35,212.10v-3.6 M778.27,212.10v-3.6 M812.18,212.10v-3.6 M846.10,212.10v-3.6 M626.30,164.93h3.6 M626.30,117.75h3.6 M626.30,70.58h3.6" stroke="#1a1a1a" stroke-width="1.2" fill="none"/>
<text transform="translate(597.00,124.55) rotate(-90)" font-size="14.0" fill="#1a1a1a"><tspan font-style="italic">C</tspan><tspan font-size="9" dy="3.8">r</tspan></text>
<text x="744.65" y="239.80" font-size="14.0" text-anchor="middle" fill="#1a1a1a"><tspan font-style="italic">T</tspan>(s)</text>
<text x="658.70" y="40.20" font-size="14.0" fill="#1a1a1a">Bilinear Plastic</text>
<text x="658.50" y="56.50" font-size="14.0" fill="#1a1a1a"><tspan font-style="italic">μ</tspan><tspan font-size="9.5" dy="4">u</tspan><tspan dy="-4">=14</tspan></text>
<text x="708.10" y="62.70" font-size="14.0" fill="#1a1a1a"><tspan font-style="italic">DI</tspan>=0.1</text>
<text x="708.10" y="79.30" font-size="14.0" fill="#1a1a1a"><tspan font-style="italic">DI</tspan>=0.5</text>
<text x="708.10" y="95.90" font-size="14.0" fill="#1a1a1a"><tspan font-style="italic">DI</tspan>=1.0</text>
<text x="767.90" y="40.40" font-size="14.0" fill="#1a1a1a">Data</text>
<text x="819.80" y="40.40" font-size="14.0" fill="#1a1a1a">Eq.(4)</text>
<rect x="776.22" y="56.22" width="4.56" height="4.56" fill="#4a4a4a"/>
<line x1="819.00" y1="57.10" x2="850.80" y2="57.10" stroke="#222" stroke-width="1.0"/>
<circle cx="778.50" cy="75.30" r="2.38" fill="#ea3b3b"/>
<line x1="819.00" y1="74.30" x2="850.80" y2="74.30" stroke="#d02a2a" stroke-width="1.7"/>
<path d="M775.93,93.71L781.07,93.71L778.50,89.09Z" fill="#2161cd"/>
<line x1="819.00" y1="91.40" x2="850.80" y2="91.40" stroke="#2f8be6" stroke-width="1.0"/>
<clipPath id="c10"><rect x="44.7" y="263.6" width="236.60000000000002" height="188.64999999999998"/></clipPath>
<g clip-path="url(#c10)">
<polyline points="67.77,429.42 74.54,430.35 81.31,430.72 88.08,430.90 94.85,431.00 101.62,431.06 108.39,431.09 115.16,431.10 121.93,431.10 128.70,431.10 135.47,431.09 142.24,431.08 149.01,431.07 155.78,431.06 162.55,431.05 169.32,431.04 176.09,431.03 182.86,431.02 189.63,431.01 196.40,431.01 203.17,431.00 209.94,431.00 216.71,431.01 223.48,431.01 230.25,431.02 237.02,431.03 243.79,431.05 250.56,431.06 257.33,431.08 264.10,431.11" fill="none" stroke="#1e1e1e" stroke-width="1.3" stroke-linejoin="round"/>
<polyline points="67.77,395.09 74.54,409.86 81.31,414.25 88.08,416.26 94.85,417.37 101.62,418.04 108.39,418.45 115.16,418.72 121.93,418.88 128.70,418.96 135.47,418.98 142.24,418.96 149.01,418.89 155.78,418.80 162.55,418.68 169.32,418.53 176.09,418.36 182.86,418.18 189.63,417.97 196.40,417.74 203.17,417.49 209.94,417.23 216.71,416.95 223.48,416.66 230.25,416.35 237.02,416.03 243.79,415.69 250.56,415.34 257.33,414.97 264.10,414.59" fill="none" stroke="#e53a3a" stroke-width="1.3" stroke-linejoin="round"/>
<polyline points="67.77,358.68 74.54,392.05 81.31,401.37 88.08,405.45 94.85,407.60 101.62,408.85 108.39,409.62 115.16,410.11 121.93,410.42 128.70,410.61 135.47,410.72 142.24,410.77 149.01,410.79 155.78,410.78 162.55,410.75 169.32,410.71 176.09,410.66 182.86,410.61 189.63,410.56 196.40,410.51 203.17,410.46 209.94,410.41 216.71,410.37 223.48,410.34 230.25,410.31 237.02,410.29 243.79,410.28 250.56,410.27 257.33,410.28 264.10,410.29" fill="none" stroke="#2b87e3" stroke-width="1.3" stroke-linejoin="round"/>
<rect x="65.37" y="429.29" width="4.80" height="4.80" fill="#4a4a4a"/>
<rect x="72.14" y="431.17" width="4.80" height="4.80" fill="#4a4a4a"/>
<rect x="78.91" y="431.17" width="4.80" height="4.80" fill="#4a4a4a"/>
<rect x="85.68" y="431.17" width="4.80" height="4.80" fill="#4a4a4a"/>
<rect x="92.45" y="431.17" width="4.80" height="4.80" fill="#4a4a4a"/>
<rect x="99.22" y="431.17" width="4.80" height="4.80" fill="#4a4a4a"/>
<rect x="105.99" y="431.17" width="4.80" height="4.80" fill="#4a4a4a"/>
<rect x="112.76" y="431.17" width="4.80" height="4.80" fill="#4a4a4a"/>
<rect x="119.53" y="431.17" width="4.80" height="4.80" fill="#4a4a4a"/>
<rect x="126.30" y="431.17" width="4.80" height="4.80" fill="#4a4a4a"/>
<rect x="133.07" y="431.17" width="4.80" height="4.80" fill="#4a4a4a"/>
<rect x="139.84" y="431.17" width="4.80" height="4.80" fill="#4a4a4a"/>
<rect x="146.61" y="431.17" width="4.80" height="4.80" fill="#4a4a4a"/>
<rect x="153.38" y="431.17" width="4.80" height="4.80" fill="#4a4a4a"/>
<rect x="160.15" y="429.66" width="4.80" height="4.80" fill="#4a4a4a"/>
<rect x="166.92" y="430.04" width="4.80" height="4.80" fill="#4a4a4a"/>
<rect x="173.69" y="429.48" width="4.80" height="4.80" fill="#4a4a4a"/>
<rect x="180.46" y="428.72" width="4.80" height="4.80" fill="#4a4a4a"/>
<rect x="187.23" y="427.78" width="4.80" height="4.80" fill="#4a4a4a"/>
<rect x="194.00" y="427.97" width="4.80" height="4.80" fill="#4a4a4a"/>
<rect x="200.77" y="428.53" width="4.80" height="4.80" fill="#4a4a4a"/>
<rect x="207.54" y="428.53" width="4.80" height="4.80" fill="#4a4a4a"/>
<rect x="214.31" y="428.53" width="4.80" height="4.80" fill="#4a4a4a"/>
<rect x="221.08" y="428.53" width="4.80" height="4.80" fill="#4a4a4a"/>
<rect x="227.85" y="428.53" width="4.80" height="4.80" fill="#4a4a4a"/>
<rect x="234.62" y="428.53" width="4.80" height="4.80" fill="#4a4a4a"/>
<rect x="241.39" y="428.53" width="4.80" height="4.80" fill="#4a4a4a"/>
<rect x="248.16" y="428.53" width="4.80" height="4.80" fill="#4a4a4a"/>
<rect x="254.93" y="428.53" width="4.80" height="4.80" fill="#4a4a4a"/>
<rect x="261.70" y="429.10" width="4.80" height="4.80" fill="#4a4a4a"/>
<circle cx="67.77" cy="395.09" r="2.50" fill="#ea3b3b"/>
<circle cx="74.54" cy="410.94" r="2.50" fill="#ea3b3b"/>
<circle cx="81.31" cy="414.52" r="2.50" fill="#ea3b3b"/>
<circle cx="88.08" cy="415.09" r="2.50" fill="#ea3b3b"/>
<circle cx="94.85" cy="416.78" r="2.50" fill="#ea3b3b"/>
<circle cx="101.62" cy="417.35" r="2.50" fill="#ea3b3b"/>
<circle cx="108.39" cy="417.73" r="2.50" fill="#ea3b3b"/>
<circle cx="115.16" cy="417.73" r="2.50" fill="#ea3b3b"/>
<circle cx="121.93" cy="419.61" r="2.50" fill="#ea3b3b"/>
<circle cx="128.70" cy="419.61" r="2.50" fill="#ea3b3b"/>
<circle cx="135.47" cy="420.18" r="2.50" fill="#ea3b3b"/>
<circle cx="142.24" cy="419.61" r="2.50" fill="#ea3b3b"/>
<circle cx="149.01" cy="419.24" r="2.50" fill="#ea3b3b"/>
<circle cx="155.78" cy="418.86" r="2.50" fill="#ea3b3b"/>
<circle cx="162.55" cy="419.24" r="2.50" fill="#ea3b3b"/>
<circle cx="169.32" cy="419.42" r="2.50" fill="#ea3b3b"/>
<circle cx="176.09" cy="419.24" r="2.50" fill="#ea3b3b"/>
<circle cx="182.86" cy="418.67" r="2.50" fill="#ea3b3b"/>
<circle cx="189.63" cy="417.92" r="2.50" fill="#ea3b3b"/>
<circle cx="196.40" cy="417.54" r="2.50" fill="#ea3b3b"/>
<circle cx="203.17" cy="416.41" r="2.50" fill="#ea3b3b"/>
<circle cx="209.94" cy="415.84" r="2.50" fill="#ea3b3b"/>
<circle cx="216.71" cy="415.82" r="2.50" fill="#ea3b3b"/>
<circle cx="223.48" cy="415.79" r="2.50" fill="#ea3b3b"/>
<circle cx="230.25" cy="415.77" r="2.50" fill="#ea3b3b"/>
<circle cx="237.02" cy="415.75" r="2.50" fill="#ea3b3b"/>
<circle cx="243.79" cy="415.72" r="2.50" fill="#ea3b3b"/>
<circle cx="250.56" cy="415.70" r="2.50" fill="#ea3b3b"/>
<circle cx="257.33" cy="415.68" r="2.50" fill="#ea3b3b"/>
<circle cx="264.10" cy="415.65" r="2.50" fill="#ea3b3b"/>
<path d="M65.07,360.81L70.47,360.81L67.77,355.95Z" fill="#2161cd"/>
<path d="M71.84,393.82L77.24,393.82L74.54,388.96Z" fill="#2161cd"/>
<path d="M78.61,398.54L84.01,398.54L81.31,393.68Z" fill="#2161cd"/>
<path d="M85.38,402.69L90.78,402.69L88.08,397.83Z" fill="#2161cd"/>
<path d="M92.15,408.35L97.55,408.35L94.85,403.49Z" fill="#2161cd"/>
<path d="M98.92,410.05L104.32,410.05L101.62,405.19Z" fill="#2161cd"/>
<path d="M105.69,412.88L111.09,412.88L108.39,408.02Z" fill="#2161cd"/>
<path d="M112.46,413.25L117.86,413.25L115.16,408.39Z" fill="#2161cd"/>
<path d="M119.23,413.82L124.63,413.82L121.93,408.96Z" fill="#2161cd"/>
<path d="M126.00,414.39L131.40,414.39L128.70,409.53Z" fill="#2161cd"/>
<path d="M132.77,416.08L138.17,416.08L135.47,411.22Z" fill="#2161cd"/>
<path d="M139.54,416.08L144.94,416.08L142.24,411.22Z" fill="#2161cd"/>
<path d="M146.31,415.33L151.71,415.33L149.01,410.47Z" fill="#2161cd"/>
<path d="M153.08,415.14L158.48,415.14L155.78,410.28Z" fill="#2161cd"/>
<path d="M159.85,413.63L165.25,413.63L162.55,408.77Z" fill="#2161cd"/>
<path d="M166.62,412.69L172.02,412.69L169.32,407.83Z" fill="#2161cd"/>
<path d="M173.39,412.12L178.79,412.12L176.09,407.26Z" fill="#2161cd"/>
<path d="M180.16,412.12L185.56,412.12L182.86,407.26Z" fill="#2161cd"/>
<path d="M186.93,412.12L192.33,412.12L189.63,407.26Z" fill="#2161cd"/>
<path d="M193.70,412.12L199.10,412.12L196.40,407.26Z" fill="#2161cd"/>
<path d="M200.47,412.12L205.87,412.12L203.17,407.26Z" fill="#2161cd"/>
<path d="M207.24,412.12L212.64,412.12L209.94,407.26Z" fill="#2161cd"/>
<path d="M214.01,412.12L219.41,412.12L216.71,407.26Z" fill="#2161cd"/>
<path d="M220.78,412.12L226.18,412.12L223.48,407.26Z" fill="#2161cd"/>
<path d="M227.55,411.56L232.95,411.56L230.25,406.70Z" fill="#2161cd"/>
<path d="M234.32,411.37L239.72,411.37L237.02,406.51Z" fill="#2161cd"/>
<path d="M241.09,410.99L246.49,410.99L243.79,406.13Z" fill="#2161cd"/>
<path d="M247.86,410.61L253.26,410.61L250.56,405.75Z" fill="#2161cd"/>
<path d="M254.63,410.61L260.03,410.61L257.33,405.75Z" fill="#2161cd"/>
<path d="M261.40,410.42L266.80,410.42L264.10,405.56Z" fill="#2161cd"/>
</g>
<rect x="44.7" y="263.6" width="236.6" height="188.6" fill="none" stroke="#1a1a1a" stroke-width="1.2"/>
<text x="61.40" y="467.65" font-size="14.0" text-anchor="middle" fill="#1a1a1a">0.0</text>
<text x="95.25" y="467.65" font-size="14.0" text-anchor="middle" fill="#1a1a1a">0.5</text>
<text x="129.10" y="467.65" font-size="14.0" text-anchor="middle" fill="#1a1a1a">1.0</text>
<text x="162.95" y="467.65" font-size="14.0" text-anchor="middle" fill="#1a1a1a">1.5</text>
<text x="196.80" y="467.65" font-size="14.0" text-anchor="middle" fill="#1a1a1a">2.0</text>
<text x="230.65" y="467.65" font-size="14.0" text-anchor="middle" fill="#1a1a1a">2.5</text>
<text x="264.50" y="467.65" font-size="14.0" text-anchor="middle" fill="#1a1a1a">3.0</text>
<text x="40.60" y="456.95" font-size="14.0" text-anchor="end" fill="#1a1a1a">0.0</text>
<text x="40.60" y="419.22" font-size="14.0" text-anchor="end" fill="#1a1a1a">0.2</text>
<text x="40.60" y="381.49" font-size="14.0" text-anchor="end" fill="#1a1a1a">0.4</text>
<text x="40.60" y="343.76" font-size="14.0" text-anchor="end" fill="#1a1a1a">0.6</text>
<text x="40.60" y="306.03" font-size="14.0" text-anchor="end" fill="#1a1a1a">0.8</text>
<text x="40.60" y="268.30" font-size="14.0" text-anchor="end" fill="#1a1a1a">1.0</text>
<path d="M61.40,452.25v-3.6 M95.25,452.25v-3.6 M129.10,452.25v-3.6 M162.95,452.25v-3.6 M196.80,452.25v-3.6 M230.65,452.25v-3.6 M264.50,452.25v-3.6 M44.70,414.52h3.6 M44.70,376.79h3.6 M44.70,339.06h3.6 M44.70,301.33h3.6" stroke="#1a1a1a" stroke-width="1.2" fill="none"/>
<text transform="translate(15.70,363.12) rotate(-90)" font-size="14.0" fill="#1a1a1a"><tspan font-style="italic">C</tspan><tspan font-size="9" dy="3.8">r</tspan></text>
<text x="163.00" y="479.95" font-size="14.0" text-anchor="middle" fill="#1a1a1a"><tspan font-style="italic">T</tspan>(s)</text>
<text x="46.50" y="278.00" font-size="14.0" fill="#1a1a1a">Modified Clough</text>
<text x="46.30" y="295.10" font-size="14.0" fill="#1a1a1a"><tspan font-style="italic">μ</tspan><tspan font-size="9.5" dy="4">u</tspan><tspan dy="-4">=6</tspan></text>
<text x="123.40" y="303.40" font-size="14.0" fill="#1a1a1a"><tspan font-style="italic">DI</tspan>=0.1</text>
<text x="123.40" y="320.00" font-size="14.0" fill="#1a1a1a"><tspan font-style="italic">DI</tspan>=0.5</text>
<text x="123.40" y="336.60" font-size="14.0" fill="#1a1a1a"><tspan font-style="italic">DI</tspan>=1.0</text>
<text x="183.30" y="278.00" font-size="14.0" fill="#1a1a1a">Data</text>
<text x="238.90" y="278.00" font-size="14.0" fill="#1a1a1a">Eq.(4)</text>
<rect x="196.42" y="296.22" width="4.56" height="4.56" fill="#4a4a4a"/>
<line x1="240.90" y1="299.50" x2="272.80" y2="299.50" stroke="#222" stroke-width="1.0"/>
<circle cx="198.70" cy="316.00" r="2.38" fill="#ea3b3b"/>
<line x1="240.90" y1="316.10" x2="272.80" y2="316.10" stroke="#d02a2a" stroke-width="1.5"/>
<path d="M196.13,334.21L201.26,334.21L198.70,329.59Z" fill="#2161cd"/>
<line x1="240.90" y1="332.90" x2="272.80" y2="332.90" stroke="#2f8be6" stroke-width="1.5"/>
<clipPath id="c11"><rect x="334.7" y="263.6" width="236.7" height="188.64999999999998"/></clipPath>
<g clip-path="url(#c11)">
<polyline points="357.77,418.67 364.53,423.14 371.30,424.71 378.07,425.47 384.83,425.88 391.60,426.11 398.37,426.24 405.13,426.30 411.90,426.32 418.67,426.31 425.43,426.29 432.20,426.25 438.97,426.21 445.73,426.16 452.50,426.11 459.27,426.05 466.03,426.01 472.80,425.96 479.57,425.92 486.33,425.88 493.10,425.85 499.87,425.82 506.63,425.80 513.40,425.78 520.17,425.77 526.93,425.77 533.70,425.78 540.47,425.79 547.23,425.81 554.00,425.84" fill="none" stroke="#1e1e1e" stroke-width="1.3" stroke-linejoin="round"/>
<polyline points="357.77,365.66 364.53,394.41 371.30,402.09 378.07,405.52 384.83,407.45 391.60,408.71 398.37,409.60 405.13,410.27 411.90,410.79 418.67,411.22 425.43,411.58 432.20,411.89 438.97,412.14 445.73,412.37 452.50,412.56 459.27,412.72 466.03,412.87 472.80,412.99 479.57,413.09 486.33,413.17 493.10,413.23 499.87,413.28 506.63,413.31 513.40,413.33 520.17,413.33 526.93,413.32 533.70,413.30 540.47,413.26 547.23,413.21 554.00,413.14" fill="none" stroke="#e53a3a" stroke-width="1.3" stroke-linejoin="round"/>
<polyline points="357.77,308.12 364.53,364.23 371.30,381.84 378.07,390.22 384.83,395.01 391.60,398.04 398.37,400.08 405.13,401.52 411.90,402.56 418.67,403.33 425.43,403.91 432.20,404.35 438.97,404.68 445.73,404.93 452.50,405.12 459.27,405.26 466.03,405.36 472.80,405.43 479.57,405.48 486.33,405.51 493.10,405.53 499.87,405.53 506.63,405.53 513.40,405.52 520.17,405.50 526.93,405.49 533.70,405.47 540.47,405.45 547.23,405.43 554.00,405.42" fill="none" stroke="#2b87e3" stroke-width="1.3" stroke-linejoin="round"/>
<rect x="355.37" y="420.04" width="4.80" height="4.80" fill="#4a4a4a"/>
<rect x="362.13" y="424.00" width="4.80" height="4.80" fill="#4a4a4a"/>
<rect x="368.90" y="425.89" width="4.80" height="4.80" fill="#4a4a4a"/>
<rect x="375.67" y="425.89" width="4.80" height="4.80" fill="#4a4a4a"/>
<rect x="382.43" y="425.89" width="4.80" height="4.80" fill="#4a4a4a"/>
<rect x="389.20" y="425.89" width="4.80" height="4.80" fill="#4a4a4a"/>
<rect x="395.97" y="425.89" width="4.80" height="4.80" fill="#4a4a4a"/>
<rect x="402.73" y="425.89" width="4.80" height="4.80" fill="#4a4a4a"/>
<rect x="409.50" y="425.89" width="4.80" height="4.80" fill="#4a4a4a"/>
<rect x="416.27" y="425.89" width="4.80" height="4.80" fill="#4a4a4a"/>
<rect x="423.03" y="425.89" width="4.80" height="4.80" fill="#4a4a4a"/>
<rect x="429.80" y="425.89" width="4.80" height="4.80" fill="#4a4a4a"/>
<rect x="436.57" y="425.89" width="4.80" height="4.80" fill="#4a4a4a"/>
<rect x="443.33" y="425.89" width="4.80" height="4.80" fill="#4a4a4a"/>
<rect x="450.10" y="424.57" width="4.80" height="4.80" fill="#4a4a4a"/>
<rect x="456.87" y="424.19" width="4.80" height="4.80" fill="#4a4a4a"/>
<rect x="463.63" y="422.87" width="4.80" height="4.80" fill="#4a4a4a"/>
<rect x="470.40" y="422.12" width="4.80" height="4.80" fill="#4a4a4a"/>
<rect x="477.17" y="421.36" width="4.80" height="4.80" fill="#4a4a4a"/>
<rect x="483.93" y="422.12" width="4.80" height="4.80" fill="#4a4a4a"/>
<rect x="490.70" y="421.36" width="4.80" height="4.80" fill="#4a4a4a"/>
<rect x="497.47" y="422.87" width="4.80" height="4.80" fill="#4a4a4a"/>
<rect x="504.23" y="422.87" width="4.80" height="4.80" fill="#4a4a4a"/>
<rect x="511.00" y="422.87" width="4.80" height="4.80" fill="#4a4a4a"/>
<rect x="517.77" y="422.87" width="4.80" height="4.80" fill="#4a4a4a"/>
<rect x="524.53" y="422.12" width="4.80" height="4.80" fill="#4a4a4a"/>
<rect x="531.30" y="421.36" width="4.80" height="4.80" fill="#4a4a4a"/>
<rect x="538.07" y="421.36" width="4.80" height="4.80" fill="#4a4a4a"/>
<rect x="544.83" y="422.50" width="4.80" height="4.80" fill="#4a4a4a"/>
<rect x="551.60" y="423.25" width="4.80" height="4.80" fill="#4a4a4a"/>
<circle cx="357.77" cy="365.66" r="2.50" fill="#ea3b3b"/>
<circle cx="364.53" cy="394.52" r="2.50" fill="#ea3b3b"/>
<circle cx="371.30" cy="399.99" r="2.50" fill="#ea3b3b"/>
<circle cx="378.07" cy="402.64" r="2.50" fill="#ea3b3b"/>
<circle cx="384.83" cy="407.73" r="2.50" fill="#ea3b3b"/>
<circle cx="391.60" cy="409.43" r="2.50" fill="#ea3b3b"/>
<circle cx="398.37" cy="412.26" r="2.50" fill="#ea3b3b"/>
<circle cx="405.13" cy="412.82" r="2.50" fill="#ea3b3b"/>
<circle cx="411.90" cy="413.39" r="2.50" fill="#ea3b3b"/>
<circle cx="418.67" cy="413.95" r="2.50" fill="#ea3b3b"/>
<circle cx="425.43" cy="414.71" r="2.50" fill="#ea3b3b"/>
<circle cx="432.20" cy="414.71" r="2.50" fill="#ea3b3b"/>
<circle cx="438.97" cy="414.14" r="2.50" fill="#ea3b3b"/>
<circle cx="445.73" cy="414.14" r="2.50" fill="#ea3b3b"/>
<circle cx="452.50" cy="413.95" r="2.50" fill="#ea3b3b"/>
<circle cx="459.27" cy="412.44" r="2.50" fill="#ea3b3b"/>
<circle cx="466.03" cy="411.12" r="2.50" fill="#ea3b3b"/>
<circle cx="472.80" cy="411.12" r="2.50" fill="#ea3b3b"/>
<circle cx="479.57" cy="411.12" r="2.50" fill="#ea3b3b"/>
<circle cx="486.33" cy="411.50" r="2.50" fill="#ea3b3b"/>
<circle cx="493.10" cy="411.88" r="2.50" fill="#ea3b3b"/>
<circle cx="499.87" cy="411.50" r="2.50" fill="#ea3b3b"/>
<circle cx="506.63" cy="411.12" r="2.50" fill="#ea3b3b"/>
<circle cx="513.40" cy="411.12" r="2.50" fill="#ea3b3b"/>
<circle cx="520.17" cy="410.75" r="2.50" fill="#ea3b3b"/>
<circle cx="526.93" cy="410.37" r="2.50" fill="#ea3b3b"/>
<circle cx="533.70" cy="410.37" r="2.50" fill="#ea3b3b"/>
<circle cx="540.47" cy="410.18" r="2.50" fill="#ea3b3b"/>
<circle cx="547.23" cy="410.18" r="2.50" fill="#ea3b3b"/>
<circle cx="554.00" cy="409.80" r="2.50" fill="#ea3b3b"/>
<path d="M355.07,310.25L360.47,310.25L357.77,305.39Z" fill="#2161cd"/>
<path d="M361.83,367.41L367.23,367.41L364.53,362.55Z" fill="#2161cd"/>
<path d="M368.60,381.18L374.00,381.18L371.30,376.32Z" fill="#2161cd"/>
<path d="M375.37,391.37L380.77,391.37L378.07,386.51Z" fill="#2161cd"/>
<path d="M382.13,399.29L387.53,399.29L384.83,394.43Z" fill="#2161cd"/>
<path d="M388.90,402.88L394.30,402.88L391.60,398.02Z" fill="#2161cd"/>
<path d="M395.67,404.39L401.07,404.39L398.37,399.53Z" fill="#2161cd"/>
<path d="M402.43,406.27L407.83,406.27L405.13,401.41Z" fill="#2161cd"/>
<path d="M409.20,407.22L414.60,407.22L411.90,402.36Z" fill="#2161cd"/>
<path d="M415.97,407.78L421.37,407.78L418.67,402.92Z" fill="#2161cd"/>
<path d="M422.73,408.16L428.13,408.16L425.43,403.30Z" fill="#2161cd"/>
<path d="M429.50,407.78L434.90,407.78L432.20,402.92Z" fill="#2161cd"/>
<path d="M436.27,407.72L441.67,407.72L438.97,402.86Z" fill="#2161cd"/>
<path d="M443.03,407.66L448.43,407.66L445.73,402.80Z" fill="#2161cd"/>
<path d="M449.80,407.59L455.20,407.59L452.50,402.73Z" fill="#2161cd"/>
<path d="M456.57,407.03L461.97,407.03L459.27,402.17Z" fill="#2161cd"/>
<path d="M463.33,406.46L468.73,406.46L466.03,401.60Z" fill="#2161cd"/>
<path d="M470.10,406.46L475.50,406.46L472.80,401.60Z" fill="#2161cd"/>
<path d="M476.87,405.71L482.27,405.71L479.57,400.85Z" fill="#2161cd"/>
<path d="M483.63,404.95L489.03,404.95L486.33,400.09Z" fill="#2161cd"/>
<path d="M490.40,404.95L495.80,404.95L493.10,400.09Z" fill="#2161cd"/>
<path d="M497.17,405.33L502.57,405.33L499.87,400.47Z" fill="#2161cd"/>
<path d="M503.93,404.95L509.33,404.95L506.63,400.09Z" fill="#2161cd"/>
<path d="M510.70,404.77L516.10,404.77L513.40,399.91Z" fill="#2161cd"/>
<path d="M517.47,405.33L522.87,405.33L520.17,400.47Z" fill="#2161cd"/>
<path d="M524.23,405.33L529.63,405.33L526.93,400.47Z" fill="#2161cd"/>
<path d="M531.00,404.95L536.40,404.95L533.70,400.09Z" fill="#2161cd"/>
<path d="M537.77,405.71L543.17,405.71L540.47,400.85Z" fill="#2161cd"/>
<path d="M544.53,406.46L549.93,406.46L547.23,401.60Z" fill="#2161cd"/>
<path d="M551.30,407.22L556.70,407.22L554.00,402.36Z" fill="#2161cd"/>
</g>
<rect x="334.7" y="263.6" width="236.7" height="188.6" fill="none" stroke="#1a1a1a" stroke-width="1.2"/>
<text x="351.40" y="467.65" font-size="14.0" text-anchor="middle" fill="#1a1a1a">0.0</text>
<text x="385.23" y="467.65" font-size="14.0" text-anchor="middle" fill="#1a1a1a">0.5</text>
<text x="419.07" y="467.65" font-size="14.0" text-anchor="middle" fill="#1a1a1a">1.0</text>
<text x="452.90" y="467.65" font-size="14.0" text-anchor="middle" fill="#1a1a1a">1.5</text>
<text x="486.73" y="467.65" font-size="14.0" text-anchor="middle" fill="#1a1a1a">2.0</text>
<text x="520.57" y="467.65" font-size="14.0" text-anchor="middle" fill="#1a1a1a">2.5</text>
<text x="554.40" y="467.65" font-size="14.0" text-anchor="middle" fill="#1a1a1a">3.0</text>
<text x="330.60" y="456.95" font-size="14.0" text-anchor="end" fill="#1a1a1a">0.0</text>
<text x="330.60" y="419.22" font-size="14.0" text-anchor="end" fill="#1a1a1a">0.2</text>
<text x="330.60" y="381.49" font-size="14.0" text-anchor="end" fill="#1a1a1a">0.4</text>
<text x="330.60" y="343.76" font-size="14.0" text-anchor="end" fill="#1a1a1a">0.6</text>
<text x="330.60" y="306.03" font-size="14.0" text-anchor="end" fill="#1a1a1a">0.8</text>
<text x="330.60" y="268.30" font-size="14.0" text-anchor="end" fill="#1a1a1a">1.0</text>
<path d="M351.40,452.25v-3.6 M385.23,452.25v-3.6 M419.07,452.25v-3.6 M452.90,452.25v-3.6 M486.73,452.25v-3.6 M520.57,452.25v-3.6 M554.40,452.25v-3.6 M334.70,414.52h3.6 M334.70,376.79h3.6 M334.70,339.06h3.6 M334.70,301.33h3.6" stroke="#1a1a1a" stroke-width="1.2" fill="none"/>
<text transform="translate(305.70,362.03) rotate(-90)" font-size="14.0" fill="#1a1a1a"><tspan font-style="italic">C</tspan><tspan font-size="9" dy="3.8">r</tspan></text>
<text x="453.05" y="479.95" font-size="14.0" text-anchor="middle" fill="#1a1a1a"><tspan font-style="italic">T</tspan>(s)</text>
<text x="338.80" y="278.90" font-size="14.0" fill="#1a1a1a">Modified Clough</text>
<text x="338.70" y="295.80" font-size="14.0" fill="#1a1a1a"><tspan font-style="italic">μ</tspan><tspan font-size="9.5" dy="4">u</tspan><tspan dy="-4">=10</tspan></text>
<text x="413.00" y="304.10" font-size="14.0" fill="#1a1a1a"><tspan font-style="italic">DI</tspan>=0.1</text>
<text x="413.00" y="320.70" font-size="14.0" fill="#1a1a1a"><tspan font-style="italic">DI</tspan>=0.5</text>
<text x="413.00" y="338.00" font-size="14.0" fill="#1a1a1a"><tspan font-style="italic">DI</tspan>=1.0</text>
<text x="471.20" y="279.40" font-size="14.0" fill="#1a1a1a">Data</text>
<text x="527.00" y="279.40" font-size="14.0" fill="#1a1a1a">Eq.(4)</text>
<rect x="486.82" y="298.72" width="4.56" height="4.56" fill="#4a4a4a"/>
<line x1="531.30" y1="300.70" x2="562.80" y2="300.70" stroke="#222" stroke-width="1.7"/>
<circle cx="489.10" cy="317.80" r="2.38" fill="#ea3b3b"/>
<line x1="531.30" y1="317.40" x2="562.80" y2="317.40" stroke="#d42a2a" stroke-width="1.2"/>
<path d="M486.54,336.31L491.67,336.31L489.10,331.69Z" fill="#2161cd"/>
<line x1="531.30" y1="334.30" x2="562.80" y2="334.30" stroke="#2f7fe0" stroke-width="1.0"/>
<clipPath id="c12"><rect x="625.6" y="263.6" width="236.60000000000002" height="188.64999999999998"/></clipPath>
<g clip-path="url(#c12)">
<polyline points="648.86,409.62 655.63,416.99 662.39,419.35 669.15,420.49 675.92,421.13 682.68,421.53 689.44,421.80 696.21,421.98 702.97,422.12 709.73,422.21 716.50,422.28 723.26,422.34 730.02,422.38 736.79,422.41 743.55,422.44 750.31,422.46 757.08,422.48 763.84,422.50 770.60,422.52 777.37,422.54 784.13,422.56 790.89,422.58 797.66,422.61 804.42,422.63 811.18,422.66 817.95,422.69 824.71,422.73 831.47,422.76 838.24,422.80 845.00,422.85" fill="none" stroke="#1e1e1e" stroke-width="1.3" stroke-linejoin="round"/>
<polyline points="648.86,339.06 655.63,380.64 662.39,393.49 669.15,399.50 675.92,402.85 682.68,404.92 689.44,406.27 696.21,407.19 702.97,407.83 709.73,408.28 716.50,408.59 723.26,408.82 730.02,408.98 736.79,409.09 743.55,409.17 750.31,409.22 757.08,409.26 763.84,409.29 770.60,409.31 777.37,409.32 784.13,409.34 790.89,409.36 797.66,409.39 804.42,409.42 811.18,409.46 817.95,409.51 824.71,409.57 831.47,409.64 838.24,409.72 845.00,409.82" fill="none" stroke="#e53a3a" stroke-width="1.3" stroke-linejoin="round"/>
<polyline points="648.86,263.60 655.63,341.79 662.39,367.54 669.15,380.01 675.92,387.14 682.68,391.60 689.44,394.56 696.21,396.58 702.97,397.99 709.73,398.99 716.50,399.70 723.26,400.20 730.02,400.55 736.79,400.79 743.55,400.96 750.31,401.07 757.08,401.14 763.84,401.19 770.60,401.22 777.37,401.26 784.13,401.29 790.89,401.34 797.66,401.39 804.42,401.47 811.18,401.56 817.95,401.68 824.71,401.82 831.47,401.99 838.24,402.19 845.00,402.43" fill="none" stroke="#2b87e3" stroke-width="1.3" stroke-linejoin="round"/>
<rect x="646.46" y="412.87" width="4.80" height="4.80" fill="#4a4a4a"/>
<rect x="653.23" y="419.48" width="4.80" height="4.80" fill="#4a4a4a"/>
<rect x="659.99" y="420.99" width="4.80" height="4.80" fill="#4a4a4a"/>
<rect x="666.75" y="420.97" width="4.80" height="4.80" fill="#4a4a4a"/>
<rect x="673.52" y="420.96" width="4.80" height="4.80" fill="#4a4a4a"/>
<rect x="680.28" y="420.94" width="4.80" height="4.80" fill="#4a4a4a"/>
<rect x="687.04" y="420.92" width="4.80" height="4.80" fill="#4a4a4a"/>
<rect x="693.81" y="420.91" width="4.80" height="4.80" fill="#4a4a4a"/>
<rect x="700.57" y="420.89" width="4.80" height="4.80" fill="#4a4a4a"/>
<rect x="707.33" y="420.88" width="4.80" height="4.80" fill="#4a4a4a"/>
<rect x="714.10" y="420.86" width="4.80" height="4.80" fill="#4a4a4a"/>
<rect x="720.86" y="420.85" width="4.80" height="4.80" fill="#4a4a4a"/>
<rect x="727.62" y="420.83" width="4.80" height="4.80" fill="#4a4a4a"/>
<rect x="734.39" y="420.81" width="4.80" height="4.80" fill="#4a4a4a"/>
<rect x="741.15" y="420.80" width="4.80" height="4.80" fill="#4a4a4a"/>
<rect x="747.91" y="420.42" width="4.80" height="4.80" fill="#4a4a4a"/>
<rect x="754.68" y="419.48" width="4.80" height="4.80" fill="#4a4a4a"/>
<rect x="761.44" y="419.85" width="4.80" height="4.80" fill="#4a4a4a"/>
<rect x="768.20" y="419.85" width="4.80" height="4.80" fill="#4a4a4a"/>
<rect x="774.97" y="420.42" width="4.80" height="4.80" fill="#4a4a4a"/>
<rect x="781.73" y="419.85" width="4.80" height="4.80" fill="#4a4a4a"/>
<rect x="788.49" y="419.10" width="4.80" height="4.80" fill="#4a4a4a"/>
<rect x="795.26" y="419.10" width="4.80" height="4.80" fill="#4a4a4a"/>
<rect x="802.02" y="418.53" width="4.80" height="4.80" fill="#4a4a4a"/>
<rect x="808.78" y="417.78" width="4.80" height="4.80" fill="#4a4a4a"/>
<rect x="815.55" y="418.72" width="4.80" height="4.80" fill="#4a4a4a"/>
<rect x="822.31" y="419.10" width="4.80" height="4.80" fill="#4a4a4a"/>
<rect x="829.07" y="419.10" width="4.80" height="4.80" fill="#4a4a4a"/>
<rect x="835.84" y="418.72" width="4.80" height="4.80" fill="#4a4a4a"/>
<rect x="842.60" y="418.91" width="4.80" height="4.80" fill="#4a4a4a"/>
<circle cx="648.86" cy="339.06" r="2.50" fill="#ea3b3b"/>
<circle cx="655.63" cy="381.69" r="2.50" fill="#ea3b3b"/>
<circle cx="662.39" cy="389.05" r="2.50" fill="#ea3b3b"/>
<circle cx="669.15" cy="396.03" r="2.50" fill="#ea3b3b"/>
<circle cx="675.92" cy="402.07" r="2.50" fill="#ea3b3b"/>
<circle cx="682.68" cy="406.03" r="2.50" fill="#ea3b3b"/>
<circle cx="689.44" cy="406.97" r="2.50" fill="#ea3b3b"/>
<circle cx="696.21" cy="408.48" r="2.50" fill="#ea3b3b"/>
<circle cx="702.97" cy="408.86" r="2.50" fill="#ea3b3b"/>
<circle cx="709.73" cy="409.62" r="2.50" fill="#ea3b3b"/>
<circle cx="716.50" cy="409.99" r="2.50" fill="#ea3b3b"/>
<circle cx="723.26" cy="409.99" r="2.50" fill="#ea3b3b"/>
<circle cx="730.02" cy="408.86" r="2.50" fill="#ea3b3b"/>
<circle cx="736.79" cy="408.86" r="2.50" fill="#ea3b3b"/>
<circle cx="743.55" cy="408.67" r="2.50" fill="#ea3b3b"/>
<circle cx="750.31" cy="408.29" r="2.50" fill="#ea3b3b"/>
<circle cx="757.08" cy="408.29" r="2.50" fill="#ea3b3b"/>
<circle cx="763.84" cy="407.92" r="2.50" fill="#ea3b3b"/>
<circle cx="770.60" cy="407.92" r="2.50" fill="#ea3b3b"/>
<circle cx="777.37" cy="407.92" r="2.50" fill="#ea3b3b"/>
<circle cx="784.13" cy="407.73" r="2.50" fill="#ea3b3b"/>
<circle cx="790.89" cy="407.35" r="2.50" fill="#ea3b3b"/>
<circle cx="797.66" cy="406.79" r="2.50" fill="#ea3b3b"/>
<circle cx="804.42" cy="406.22" r="2.50" fill="#ea3b3b"/>
<circle cx="811.18" cy="406.25" r="2.50" fill="#ea3b3b"/>
<circle cx="817.95" cy="406.28" r="2.50" fill="#ea3b3b"/>
<circle cx="824.71" cy="406.31" r="2.50" fill="#ea3b3b"/>
<circle cx="831.47" cy="406.35" r="2.50" fill="#ea3b3b"/>
<circle cx="838.24" cy="406.38" r="2.50" fill="#ea3b3b"/>
<circle cx="845.00" cy="406.41" r="2.50" fill="#ea3b3b"/>
<path d="M646.16,271.01L651.56,271.01L648.86,266.15Z" fill="#2161cd"/>
<path d="M652.93,345.34L658.33,345.34L655.63,340.48Z" fill="#2161cd"/>
<path d="M659.69,368.92L665.09,368.92L662.39,364.06Z" fill="#2161cd"/>
<path d="M666.45,384.39L671.85,384.39L669.15,379.53Z" fill="#2161cd"/>
<path d="M673.22,391.75L678.62,391.75L675.92,386.89Z" fill="#2161cd"/>
<path d="M679.98,397.41L685.38,397.41L682.68,392.55Z" fill="#2161cd"/>
<path d="M686.74,399.86L692.14,399.86L689.44,395.00Z" fill="#2161cd"/>
<path d="M693.51,400.24L698.91,400.24L696.21,395.38Z" fill="#2161cd"/>
<path d="M700.27,403.63L705.67,403.63L702.97,398.77Z" fill="#2161cd"/>
<path d="M707.03,403.63L712.43,403.63L709.73,398.77Z" fill="#2161cd"/>
<path d="M713.80,403.63L719.20,403.63L716.50,398.77Z" fill="#2161cd"/>
<path d="M720.56,403.63L725.96,403.63L723.26,398.77Z" fill="#2161cd"/>
<path d="M727.32,403.63L732.72,403.63L730.02,398.77Z" fill="#2161cd"/>
<path d="M734.09,403.63L739.49,403.63L736.79,398.77Z" fill="#2161cd"/>
<path d="M740.85,403.63L746.25,403.63L743.55,398.77Z" fill="#2161cd"/>
<path d="M747.61,402.69L753.01,402.69L750.31,397.83Z" fill="#2161cd"/>
<path d="M754.38,402.31L759.78,402.31L757.08,397.45Z" fill="#2161cd"/>
<path d="M761.14,401.37L766.54,401.37L763.84,396.51Z" fill="#2161cd"/>
<path d="M767.90,401.37L773.30,401.37L770.60,396.51Z" fill="#2161cd"/>
<path d="M774.67,401.37L780.07,401.37L777.37,396.51Z" fill="#2161cd"/>
<path d="M781.43,400.99L786.83,400.99L784.13,396.13Z" fill="#2161cd"/>
<path d="M788.19,401.75L793.59,401.75L790.89,396.89Z" fill="#2161cd"/>
<path d="M794.96,401.94L800.36,401.94L797.66,397.08Z" fill="#2161cd"/>
<path d="M801.72,402.31L807.12,402.31L804.42,397.45Z" fill="#2161cd"/>
<path d="M808.48,402.69L813.88,402.69L811.18,397.83Z" fill="#2161cd"/>
<path d="M815.25,404.01L820.65,404.01L817.95,399.15Z" fill="#2161cd"/>
<path d="M822.01,404.39L827.41,404.39L824.71,399.53Z" fill="#2161cd"/>
<path d="M828.77,404.58L834.17,404.58L831.47,399.72Z" fill="#2161cd"/>
<path d="M835.54,404.95L840.94,404.95L838.24,400.09Z" fill="#2161cd"/>
<path d="M842.30,404.95L847.70,404.95L845.00,400.09Z" fill="#2161cd"/>
</g>
<rect x="625.6" y="263.6" width="236.6" height="188.6" fill="none" stroke="#1a1a1a" stroke-width="1.2"/>
<text x="642.50" y="467.65" font-size="14.0" text-anchor="middle" fill="#1a1a1a">0.0</text>
<text x="676.32" y="467.65" font-size="14.0" text-anchor="middle" fill="#1a1a1a">0.5</text>
<text x="710.13" y="467.65" font-size="14.0" text-anchor="middle" fill="#1a1a1a">1.0</text>
<text x="743.95" y="467.65" font-size="14.0" text-anchor="middle" fill="#1a1a1a">1.5</text>
<text x="777.77" y="467.65" font-size="14.0" text-anchor="middle" fill="#1a1a1a">2.0</text>
<text x="811.58" y="467.65" font-size="14.0" text-anchor="middle" fill="#1a1a1a">2.5</text>
<text x="845.40" y="467.65" font-size="14.0" text-anchor="middle" fill="#1a1a1a">3.0</text>
<text x="621.50" y="456.95" font-size="14.0" text-anchor="end" fill="#1a1a1a">0.0</text>
<text x="621.50" y="419.22" font-size="14.0" text-anchor="end" fill="#1a1a1a">0.2</text>
<text x="621.50" y="381.49" font-size="14.0" text-anchor="end" fill="#1a1a1a">0.4</text>
<text x="621.50" y="343.76" font-size="14.0" text-anchor="end" fill="#1a1a1a">0.6</text>
<text x="621.50" y="306.03" font-size="14.0" text-anchor="end" fill="#1a1a1a">0.8</text>
<text x="621.50" y="268.30" font-size="14.0" text-anchor="end" fill="#1a1a1a">1.0</text>
<path d="M642.50,452.25v-3.6 M676.32,452.25v-3.6 M710.13,452.25v-3.6 M743.95,452.25v-3.6 M777.77,452.25v-3.6 M811.58,452.25v-3.6 M845.40,452.25v-3.6 M625.60,414.52h3.6 M625.60,376.79h3.6 M625.60,339.06h3.6 M625.60,301.33h3.6" stroke="#1a1a1a" stroke-width="1.2" fill="none"/>
<text transform="translate(596.70,362.32) rotate(-90)" font-size="14.0" fill="#1a1a1a"><tspan font-style="italic">C</tspan><tspan font-size="9" dy="3.8">r</tspan></text>
<text x="743.90" y="479.95" font-size="14.0" text-anchor="middle" fill="#1a1a1a"><tspan font-style="italic">T</tspan>(s)</text>
<text x="653.80" y="278.00" font-size="14.0" fill="#1a1a1a">Modified Clough</text>
<text x="653.90" y="295.10" font-size="14.0" fill="#1a1a1a"><tspan font-style="italic">μ</tspan><tspan font-size="9.5" dy="4">u</tspan><tspan dy="-4">=14</tspan></text>
<text x="704.70" y="304.10" font-size="14.0" fill="#1a1a1a"><tspan font-style="italic">DI</tspan>=0.1</text>
<text x="704.70" y="320.70" font-size="14.0" fill="#1a1a1a"><tspan font-style="italic">DI</tspan>=0.5</text>
<text x="704.70" y="337.30" font-size="14.0" fill="#1a1a1a"><tspan font-style="italic">DI</tspan>=1.0</text>
<text x="768.50" y="278.00" font-size="14.0" fill="#1a1a1a">Data</text>
<text x="820.00" y="278.00" font-size="14.0" fill="#1a1a1a">Eq.(4)</text>
<rect x="777.92" y="298.12" width="4.56" height="4.56" fill="#4a4a4a"/>
<line x1="823.90" y1="299.50" x2="855.80" y2="299.50" stroke="#222" stroke-width="1.0"/>
<circle cx="780.20" cy="317.60" r="2.38" fill="#ea3b3b"/>
<line x1="823.90" y1="316.40" x2="855.80" y2="316.40" stroke="#d84040" stroke-width="1.2"/>
<path d="M777.63,335.61L782.77,335.61L780.20,330.99Z" fill="#2161cd"/>
<line x1="823.90" y1="333.20" x2="855.80" y2="333.20" stroke="#2f8be6" stroke-width="1.2"/>
<clipPath id="c20"><rect x="44.7" y="501.5" width="236.60000000000002" height="188.89999999999998"/></clipPath>
<g clip-path="url(#c20)">
<polyline points="67.77,663.58 74.54,666.42 81.31,667.52 88.08,668.11 94.85,668.47 101.62,668.70 108.39,668.86 115.16,668.98 121.93,669.07 128.70,669.14 135.47,669.19 142.24,669.23 149.01,669.27 155.78,669.30 162.55,669.33 169.32,669.36 176.09,669.39 182.86,669.42 189.63,669.45 196.40,669.49 203.17,669.52 209.94,669.56 216.71,669.61 223.48,669.66 230.25,669.71 237.02,669.76 243.79,669.82 250.56,669.89 257.33,669.96 264.10,670.03" fill="none" stroke="#1e1e1e" stroke-width="1.3" stroke-linejoin="round"/>
<polyline points="67.77,620.70 74.54,640.86 81.31,647.50 88.08,650.66 94.85,652.40 101.62,653.44 108.39,654.08 115.16,654.48 121.93,654.72 128.70,654.86 135.47,654.93 142.24,654.96 149.01,654.95 155.78,654.93 162.55,654.89 169.32,654.85 176.09,654.81 182.86,654.78 189.63,654.75 196.40,654.74 203.17,654.73 209.94,654.74 216.71,654.76 223.48,654.80 230.25,654.86 237.02,654.93 243.79,655.02 250.56,655.14 257.33,655.27 264.10,655.42" fill="none" stroke="#e53a3a" stroke-width="1.3" stroke-linejoin="round"/>
<polyline points="67.77,573.28 74.54,615.91 81.31,629.58 88.08,636.24 94.85,640.16 101.62,642.71 108.39,644.49 115.16,645.78 121.93,646.74 128.70,647.47 135.47,648.03 142.24,648.44 149.01,648.76 155.78,648.98 162.55,649.13 169.32,649.22 176.09,649.25 182.86,649.23 189.63,649.16 196.40,649.06 203.17,648.92 209.94,648.74 216.71,648.53 223.48,648.29 230.25,648.02 237.02,647.72 243.79,647.39 250.56,647.04 257.33,646.66 264.10,646.26" fill="none" stroke="#2b87e3" stroke-width="1.3" stroke-linejoin="round"/>
<rect x="65.37" y="664.58" width="4.80" height="4.80" fill="#4a4a4a"/>
<rect x="72.14" y="668.17" width="4.80" height="4.80" fill="#4a4a4a"/>
<rect x="78.91" y="668.54" width="4.80" height="4.80" fill="#4a4a4a"/>
<rect x="85.68" y="668.54" width="4.80" height="4.80" fill="#4a4a4a"/>
<rect x="92.45" y="668.54" width="4.80" height="4.80" fill="#4a4a4a"/>
<rect x="99.22" y="669.49" width="4.80" height="4.80" fill="#4a4a4a"/>
<rect x="105.99" y="669.11" width="4.80" height="4.80" fill="#4a4a4a"/>
<rect x="112.76" y="669.11" width="4.80" height="4.80" fill="#4a4a4a"/>
<rect x="119.53" y="668.54" width="4.80" height="4.80" fill="#4a4a4a"/>
<rect x="126.30" y="667.60" width="4.80" height="4.80" fill="#4a4a4a"/>
<rect x="133.07" y="668.17" width="4.80" height="4.80" fill="#4a4a4a"/>
<rect x="139.84" y="668.17" width="4.80" height="4.80" fill="#4a4a4a"/>
<rect x="146.61" y="668.17" width="4.80" height="4.80" fill="#4a4a4a"/>
<rect x="153.38" y="668.17" width="4.80" height="4.80" fill="#4a4a4a"/>
<rect x="160.15" y="667.22" width="4.80" height="4.80" fill="#4a4a4a"/>
<rect x="166.92" y="667.98" width="4.80" height="4.80" fill="#4a4a4a"/>
<rect x="173.69" y="666.84" width="4.80" height="4.80" fill="#4a4a4a"/>
<rect x="180.46" y="666.28" width="4.80" height="4.80" fill="#4a4a4a"/>
<rect x="187.23" y="666.65" width="4.80" height="4.80" fill="#4a4a4a"/>
<rect x="194.00" y="666.84" width="4.80" height="4.80" fill="#4a4a4a"/>
<rect x="200.77" y="666.84" width="4.80" height="4.80" fill="#4a4a4a"/>
<rect x="207.54" y="666.84" width="4.80" height="4.80" fill="#4a4a4a"/>
<rect x="214.31" y="666.84" width="4.80" height="4.80" fill="#4a4a4a"/>
<rect x="221.08" y="666.84" width="4.80" height="4.80" fill="#4a4a4a"/>
<rect x="227.85" y="666.84" width="4.80" height="4.80" fill="#4a4a4a"/>
<rect x="234.62" y="666.84" width="4.80" height="4.80" fill="#4a4a4a"/>
<rect x="241.39" y="666.84" width="4.80" height="4.80" fill="#4a4a4a"/>
<rect x="248.16" y="666.84" width="4.80" height="4.80" fill="#4a4a4a"/>
<rect x="254.93" y="667.60" width="4.80" height="4.80" fill="#4a4a4a"/>
<rect x="261.70" y="667.79" width="4.80" height="4.80" fill="#4a4a4a"/>
<circle cx="67.77" cy="620.70" r="2.50" fill="#ea3b3b"/>
<circle cx="74.54" cy="641.66" r="2.50" fill="#ea3b3b"/>
<circle cx="81.31" cy="648.28" r="2.50" fill="#ea3b3b"/>
<circle cx="88.08" cy="648.84" r="2.50" fill="#ea3b3b"/>
<circle cx="94.85" cy="652.43" r="2.50" fill="#ea3b3b"/>
<circle cx="101.62" cy="652.81" r="2.50" fill="#ea3b3b"/>
<circle cx="108.39" cy="654.13" r="2.50" fill="#ea3b3b"/>
<circle cx="115.16" cy="654.13" r="2.50" fill="#ea3b3b"/>
<circle cx="121.93" cy="654.51" r="2.50" fill="#ea3b3b"/>
<circle cx="128.70" cy="654.13" r="2.50" fill="#ea3b3b"/>
<circle cx="135.47" cy="655.83" r="2.50" fill="#ea3b3b"/>
<circle cx="142.24" cy="655.83" r="2.50" fill="#ea3b3b"/>
<circle cx="149.01" cy="655.45" r="2.50" fill="#ea3b3b"/>
<circle cx="155.78" cy="655.83" r="2.50" fill="#ea3b3b"/>
<circle cx="162.55" cy="655.83" r="2.50" fill="#ea3b3b"/>
<circle cx="169.32" cy="655.83" r="2.50" fill="#ea3b3b"/>
<circle cx="176.09" cy="655.26" r="2.50" fill="#ea3b3b"/>
<circle cx="182.86" cy="654.51" r="2.50" fill="#ea3b3b"/>
<circle cx="189.63" cy="653.94" r="2.50" fill="#ea3b3b"/>
<circle cx="196.40" cy="653.94" r="2.50" fill="#ea3b3b"/>
<circle cx="203.17" cy="653.94" r="2.50" fill="#ea3b3b"/>
<circle cx="209.94" cy="654.32" r="2.50" fill="#ea3b3b"/>
<circle cx="216.71" cy="653.94" r="2.50" fill="#ea3b3b"/>
<circle cx="223.48" cy="653.94" r="2.50" fill="#ea3b3b"/>
<circle cx="230.25" cy="654.89" r="2.50" fill="#ea3b3b"/>
<circle cx="237.02" cy="655.26" r="2.50" fill="#ea3b3b"/>
<circle cx="243.79" cy="654.89" r="2.50" fill="#ea3b3b"/>
<circle cx="250.56" cy="655.26" r="2.50" fill="#ea3b3b"/>
<circle cx="257.33" cy="656.21" r="2.50" fill="#ea3b3b"/>
<circle cx="264.10" cy="655.64" r="2.50" fill="#ea3b3b"/>
<path d="M65.07,575.41L70.47,575.41L67.77,570.55Z" fill="#2161cd"/>
<path d="M71.84,619.05L77.24,619.05L74.54,614.19Z" fill="#2161cd"/>
<path d="M78.61,631.33L84.01,631.33L81.31,626.47Z" fill="#2161cd"/>
<path d="M85.38,637.75L90.78,637.75L88.08,632.89Z" fill="#2161cd"/>
<path d="M92.15,641.53L97.55,641.53L94.85,636.67Z" fill="#2161cd"/>
<path d="M98.92,646.25L104.32,646.25L101.62,641.39Z" fill="#2161cd"/>
<path d="M105.69,646.25L111.09,646.25L108.39,641.39Z" fill="#2161cd"/>
<path d="M112.46,645.49L117.86,645.49L115.16,640.63Z" fill="#2161cd"/>
<path d="M119.23,648.33L124.63,648.33L121.93,643.47Z" fill="#2161cd"/>
<path d="M126.00,649.65L131.40,649.65L128.70,644.79Z" fill="#2161cd"/>
<path d="M132.77,651.16L138.17,651.16L135.47,646.30Z" fill="#2161cd"/>
<path d="M139.54,652.86L144.94,652.86L142.24,648.00Z" fill="#2161cd"/>
<path d="M146.31,652.48L151.71,652.48L149.01,647.62Z" fill="#2161cd"/>
<path d="M153.08,652.11L158.48,652.11L155.78,647.25Z" fill="#2161cd"/>
<path d="M159.85,651.73L165.25,651.73L162.55,646.87Z" fill="#2161cd"/>
<path d="M166.62,651.73L172.02,651.73L169.32,646.87Z" fill="#2161cd"/>
<path d="M173.39,650.59L178.79,650.59L176.09,645.73Z" fill="#2161cd"/>
<path d="M180.16,649.84L185.56,649.84L182.86,644.98Z" fill="#2161cd"/>
<path d="M186.93,650.22L192.33,650.22L189.63,645.36Z" fill="#2161cd"/>
<path d="M193.70,649.84L199.10,649.84L196.40,644.98Z" fill="#2161cd"/>
<path d="M200.47,649.84L205.87,649.84L203.17,644.98Z" fill="#2161cd"/>
<path d="M207.24,650.22L212.64,650.22L209.94,645.36Z" fill="#2161cd"/>
<path d="M214.01,650.97L219.41,650.97L216.71,646.11Z" fill="#2161cd"/>
<path d="M220.78,650.97L226.18,650.97L223.48,646.11Z" fill="#2161cd"/>
<path d="M227.55,651.54L232.95,651.54L230.25,646.68Z" fill="#2161cd"/>
<path d="M234.32,650.59L239.72,650.59L237.02,645.73Z" fill="#2161cd"/>
<path d="M241.09,650.22L246.49,650.22L243.79,645.36Z" fill="#2161cd"/>
<path d="M247.86,648.52L253.26,648.52L250.56,643.66Z" fill="#2161cd"/>
<path d="M254.63,648.33L260.03,648.33L257.33,643.47Z" fill="#2161cd"/>
<path d="M261.40,648.52L266.80,648.52L264.10,643.66Z" fill="#2161cd"/>
</g>
<rect x="44.7" y="501.5" width="236.6" height="188.9" fill="none" stroke="#1a1a1a" stroke-width="1.2"/>
<text x="61.40" y="705.80" font-size="14.0" text-anchor="middle" fill="#1a1a1a">0.0</text>
<text x="95.25" y="705.80" font-size="14.0" text-anchor="middle" fill="#1a1a1a">0.5</text>
<text x="129.10" y="705.80" font-size="14.0" text-anchor="middle" fill="#1a1a1a">1.0</text>
<text x="162.95" y="705.80" font-size="14.0" text-anchor="middle" fill="#1a1a1a">1.5</text>
<text x="196.80" y="705.80" font-size="14.0" text-anchor="middle" fill="#1a1a1a">2.0</text>
<text x="230.65" y="705.80" font-size="14.0" text-anchor="middle" fill="#1a1a1a">2.5</text>
<text x="264.50" y="705.80" font-size="14.0" text-anchor="middle" fill="#1a1a1a">3.0</text>
<text x="40.60" y="695.10" font-size="14.0" text-anchor="end" fill="#1a1a1a">0.0</text>
<text x="40.60" y="657.32" font-size="14.0" text-anchor="end" fill="#1a1a1a">0.2</text>
<text x="40.60" y="619.54" font-size="14.0" text-anchor="end" fill="#1a1a1a">0.4</text>
<text x="40.60" y="581.76" font-size="14.0" text-anchor="end" fill="#1a1a1a">0.6</text>
<text x="40.60" y="543.98" font-size="14.0" text-anchor="end" fill="#1a1a1a">0.8</text>
<text x="40.60" y="506.20" font-size="14.0" text-anchor="end" fill="#1a1a1a">1.0</text>
<path d="M61.40,690.40v-3.6 M95.25,690.40v-3.6 M129.10,690.40v-3.6 M162.95,690.40v-3.6 M196.80,690.40v-3.6 M230.65,690.40v-3.6 M264.50,690.40v-3.6 M44.70,652.62h3.6 M44.70,614.84h3.6 M44.70,577.06h3.6 M44.70,539.28h3.6" stroke="#1a1a1a" stroke-width="1.2" fill="none"/>
<text transform="translate(15.70,601.05) rotate(-90)" font-size="14.0" fill="#1a1a1a"><tspan font-style="italic">C</tspan><tspan font-size="9" dy="3.8">r</tspan></text>
<text x="163.00" y="718.10" font-size="14.0" text-anchor="middle" fill="#1a1a1a"><tspan font-style="italic">T</tspan>(s)</text>
<text x="47.80" y="516.00" font-size="14.0" fill="#1a1a1a">Peak-Oriented</text>
<text x="47.40" y="532.60" font-size="14.0" fill="#1a1a1a"><tspan font-style="italic">μ</tspan><tspan font-size="9.5" dy="4">u</tspan><tspan dy="-4">=6</tspan></text>
<text x="126.80" y="541.80" font-size="14.0" fill="#1a1a1a"><tspan font-style="italic">DI</tspan>=0.1</text>
<text x="126.80" y="558.40" font-size="14.0" fill="#1a1a1a"><tspan font-style="italic">DI</tspan>=0.5</text>
<text x="126.80" y="575.30" font-size="14.0" fill="#1a1a1a"><tspan font-style="italic">DI</tspan>=1.0</text>
<text x="185.20" y="516.30" font-size="14.0" fill="#1a1a1a">Data</text>
<text x="237.00" y="516.30" font-size="14.0" fill="#1a1a1a">Eq.(4)</text>
<rect x="197.42" y="536.12" width="4.56" height="4.56" fill="#4a4a4a"/>
<line x1="240.90" y1="538.40" x2="272.80" y2="538.40" stroke="#555" stroke-width="1.3"/>
<circle cx="199.70" cy="555.60" r="2.38" fill="#ea3b3b"/>
<line x1="240.90" y1="555.40" x2="272.80" y2="555.40" stroke="#c82828" stroke-width="1.7"/>
<path d="M197.13,574.31L202.26,574.31L199.70,569.69Z" fill="#2161cd"/>
<line x1="240.90" y1="572.30" x2="272.80" y2="572.30" stroke="#2f8be6" stroke-width="1.0"/>
<clipPath id="c21"><rect x="335.5" y="501.5" width="236.5" height="188.89999999999998"/></clipPath>
<g clip-path="url(#c21)">
<polyline points="358.65,650.16 365.41,657.80 372.16,660.11 378.91,661.20 385.67,661.83 392.42,662.24 399.17,662.53 405.93,662.75 412.68,662.92 419.43,663.05 426.19,663.17 432.94,663.27 439.69,663.36 446.45,663.44 453.20,663.51 459.95,663.57 466.71,663.64 473.46,663.70 480.21,663.76 486.97,663.81 493.72,663.87 500.47,663.92 507.23,663.98 513.98,664.03 520.73,664.08 527.49,664.14 534.24,664.19 540.99,664.25 547.75,664.30 554.50,664.36" fill="none" stroke="#1e1e1e" stroke-width="1.3" stroke-linejoin="round"/>
<polyline points="358.65,580.08 365.41,620.47 372.16,632.79 378.91,638.62 385.67,641.97 392.42,644.13 399.17,645.62 405.93,646.71 412.68,647.53 419.43,648.17 426.19,648.68 432.94,649.10 439.69,649.44 446.45,649.73 453.20,649.97 459.95,650.18 466.71,650.35 473.46,650.50 480.21,650.64 486.97,650.75 493.72,650.85 500.47,650.94 507.23,651.02 513.98,651.09 520.73,651.15 527.49,651.20 534.24,651.25 540.99,651.29 547.75,651.33 554.50,651.36" fill="none" stroke="#e53a3a" stroke-width="1.3" stroke-linejoin="round"/>
<polyline points="358.65,515.10 365.41,584.43 372.16,608.05 378.91,619.84 385.67,626.81 392.42,631.33 399.17,634.44 405.93,636.67 412.68,638.31 419.43,639.55 426.19,640.49 432.94,641.21 439.69,641.76 446.45,642.19 453.20,642.53 459.95,642.79 466.71,642.98 473.46,643.13 480.21,643.25 486.97,643.33 493.72,643.40 500.47,643.44 507.23,643.48 513.98,643.51 520.73,643.53 527.49,643.55 534.24,643.57 540.99,643.59 547.75,643.62 554.50,643.65" fill="none" stroke="#2b87e3" stroke-width="1.3" stroke-linejoin="round"/>
<rect x="356.25" y="653.24" width="4.80" height="4.80" fill="#4a4a4a"/>
<rect x="363.01" y="659.48" width="4.80" height="4.80" fill="#4a4a4a"/>
<rect x="369.76" y="662.12" width="4.80" height="4.80" fill="#4a4a4a"/>
<rect x="376.51" y="662.10" width="4.80" height="4.80" fill="#4a4a4a"/>
<rect x="383.27" y="662.09" width="4.80" height="4.80" fill="#4a4a4a"/>
<rect x="390.02" y="662.07" width="4.80" height="4.80" fill="#4a4a4a"/>
<rect x="396.77" y="662.06" width="4.80" height="4.80" fill="#4a4a4a"/>
<rect x="403.53" y="662.04" width="4.80" height="4.80" fill="#4a4a4a"/>
<rect x="410.28" y="662.03" width="4.80" height="4.80" fill="#4a4a4a"/>
<rect x="417.03" y="662.01" width="4.80" height="4.80" fill="#4a4a4a"/>
<rect x="423.79" y="661.99" width="4.80" height="4.80" fill="#4a4a4a"/>
<rect x="430.54" y="661.98" width="4.80" height="4.80" fill="#4a4a4a"/>
<rect x="437.29" y="661.96" width="4.80" height="4.80" fill="#4a4a4a"/>
<rect x="444.05" y="661.95" width="4.80" height="4.80" fill="#4a4a4a"/>
<rect x="450.80" y="661.93" width="4.80" height="4.80" fill="#4a4a4a"/>
<rect x="457.55" y="661.37" width="4.80" height="4.80" fill="#4a4a4a"/>
<rect x="464.31" y="659.85" width="4.80" height="4.80" fill="#4a4a4a"/>
<rect x="471.06" y="659.29" width="4.80" height="4.80" fill="#4a4a4a"/>
<rect x="477.81" y="659.66" width="4.80" height="4.80" fill="#4a4a4a"/>
<rect x="484.57" y="660.42" width="4.80" height="4.80" fill="#4a4a4a"/>
<rect x="491.32" y="660.23" width="4.80" height="4.80" fill="#4a4a4a"/>
<rect x="498.07" y="660.23" width="4.80" height="4.80" fill="#4a4a4a"/>
<rect x="504.83" y="660.23" width="4.80" height="4.80" fill="#4a4a4a"/>
<rect x="511.58" y="660.23" width="4.80" height="4.80" fill="#4a4a4a"/>
<rect x="518.33" y="660.23" width="4.80" height="4.80" fill="#4a4a4a"/>
<rect x="525.09" y="660.23" width="4.80" height="4.80" fill="#4a4a4a"/>
<rect x="531.84" y="660.80" width="4.80" height="4.80" fill="#4a4a4a"/>
<rect x="538.59" y="660.99" width="4.80" height="4.80" fill="#4a4a4a"/>
<rect x="545.35" y="661.74" width="4.80" height="4.80" fill="#4a4a4a"/>
<rect x="552.10" y="661.74" width="4.80" height="4.80" fill="#4a4a4a"/>
<circle cx="358.65" cy="580.08" r="2.50" fill="#ea3b3b"/>
<circle cx="365.41" cy="619.56" r="2.50" fill="#ea3b3b"/>
<circle cx="372.16" cy="631.27" r="2.50" fill="#ea3b3b"/>
<circle cx="378.91" cy="636.94" r="2.50" fill="#ea3b3b"/>
<circle cx="385.67" cy="641.10" r="2.50" fill="#ea3b3b"/>
<circle cx="392.42" cy="643.93" r="2.50" fill="#ea3b3b"/>
<circle cx="399.17" cy="645.82" r="2.50" fill="#ea3b3b"/>
<circle cx="405.93" cy="645.82" r="2.50" fill="#ea3b3b"/>
<circle cx="412.68" cy="648.09" r="2.50" fill="#ea3b3b"/>
<circle cx="419.43" cy="649.41" r="2.50" fill="#ea3b3b"/>
<circle cx="426.19" cy="650.54" r="2.50" fill="#ea3b3b"/>
<circle cx="432.94" cy="651.11" r="2.50" fill="#ea3b3b"/>
<circle cx="439.69" cy="650.92" r="2.50" fill="#ea3b3b"/>
<circle cx="446.45" cy="650.54" r="2.50" fill="#ea3b3b"/>
<circle cx="453.20" cy="650.54" r="2.50" fill="#ea3b3b"/>
<circle cx="459.95" cy="650.16" r="2.50" fill="#ea3b3b"/>
<circle cx="466.71" cy="649.98" r="2.50" fill="#ea3b3b"/>
<circle cx="473.46" cy="648.84" r="2.50" fill="#ea3b3b"/>
<circle cx="480.21" cy="649.22" r="2.50" fill="#ea3b3b"/>
<circle cx="486.97" cy="649.98" r="2.50" fill="#ea3b3b"/>
<circle cx="493.72" cy="649.98" r="2.50" fill="#ea3b3b"/>
<circle cx="500.47" cy="649.98" r="2.50" fill="#ea3b3b"/>
<circle cx="507.23" cy="650.16" r="2.50" fill="#ea3b3b"/>
<circle cx="513.98" cy="650.16" r="2.50" fill="#ea3b3b"/>
<circle cx="520.73" cy="649.98" r="2.50" fill="#ea3b3b"/>
<circle cx="527.49" cy="650.16" r="2.50" fill="#ea3b3b"/>
<circle cx="534.24" cy="649.22" r="2.50" fill="#ea3b3b"/>
<circle cx="540.99" cy="648.84" r="2.50" fill="#ea3b3b"/>
<circle cx="547.75" cy="647.71" r="2.50" fill="#ea3b3b"/>
<circle cx="554.50" cy="647.14" r="2.50" fill="#ea3b3b"/>
<path d="M355.95,517.23L361.35,517.23L358.65,512.37Z" fill="#2161cd"/>
<path d="M362.71,586.93L368.11,586.93L365.41,582.07Z" fill="#2161cd"/>
<path d="M369.46,608.47L374.86,608.47L372.16,603.61Z" fill="#2161cd"/>
<path d="M376.21,620.94L381.61,620.94L378.91,616.08Z" fill="#2161cd"/>
<path d="M382.97,630.95L388.37,630.95L385.67,626.09Z" fill="#2161cd"/>
<path d="M389.72,634.92L395.12,634.92L392.42,630.06Z" fill="#2161cd"/>
<path d="M396.47,637.37L401.87,637.37L399.17,632.51Z" fill="#2161cd"/>
<path d="M403.23,639.64L408.63,639.64L405.93,634.78Z" fill="#2161cd"/>
<path d="M409.98,645.12L415.38,645.12L412.68,640.26Z" fill="#2161cd"/>
<path d="M416.73,645.49L422.13,645.49L419.43,640.63Z" fill="#2161cd"/>
<path d="M423.49,646.63L428.89,646.63L426.19,641.77Z" fill="#2161cd"/>
<path d="M430.24,646.63L435.64,646.63L432.94,641.77Z" fill="#2161cd"/>
<path d="M436.99,646.63L442.39,646.63L439.69,641.77Z" fill="#2161cd"/>
<path d="M443.75,646.06L449.15,646.06L446.45,641.20Z" fill="#2161cd"/>
<path d="M450.50,644.74L455.90,644.74L453.20,639.88Z" fill="#2161cd"/>
<path d="M457.25,643.79L462.65,643.79L459.95,638.93Z" fill="#2161cd"/>
<path d="M464.01,644.74L469.41,644.74L466.71,639.88Z" fill="#2161cd"/>
<path d="M470.76,644.55L476.16,644.55L473.46,639.69Z" fill="#2161cd"/>
<path d="M477.51,644.55L482.91,644.55L480.21,639.69Z" fill="#2161cd"/>
<path d="M484.27,644.74L489.67,644.74L486.97,639.88Z" fill="#2161cd"/>
<path d="M491.02,643.42L496.42,643.42L493.72,638.56Z" fill="#2161cd"/>
<path d="M497.77,642.47L503.17,642.47L500.47,637.61Z" fill="#2161cd"/>
<path d="M504.53,643.42L509.93,643.42L507.23,638.56Z" fill="#2161cd"/>
<path d="M511.28,642.47L516.68,642.47L513.98,637.61Z" fill="#2161cd"/>
<path d="M518.03,643.42L523.43,643.42L520.73,638.56Z" fill="#2161cd"/>
<path d="M524.79,643.79L530.19,643.79L527.49,638.93Z" fill="#2161cd"/>
<path d="M531.54,644.17L536.94,644.17L534.24,639.31Z" fill="#2161cd"/>
<path d="M538.29,644.55L543.69,644.55L540.99,639.69Z" fill="#2161cd"/>
<path d="M545.05,647.01L550.45,647.01L547.75,642.15Z" fill="#2161cd"/>
<path d="M551.80,647.57L557.20,647.57L554.50,642.71Z" fill="#2161cd"/>
</g>
<rect x="335.5" y="501.5" width="236.5" height="188.9" fill="none" stroke="#1a1a1a" stroke-width="1.2"/>
<text x="352.30" y="705.80" font-size="14.0" text-anchor="middle" fill="#1a1a1a">0.0</text>
<text x="386.07" y="705.80" font-size="14.0" text-anchor="middle" fill="#1a1a1a">0.5</text>
<text x="419.83" y="705.80" font-size="14.0" text-anchor="middle" fill="#1a1a1a">1.0</text>
<text x="453.60" y="705.80" font-size="14.0" text-anchor="middle" fill="#1a1a1a">1.5</text>
<text x="487.37" y="705.80" font-size="14.0" text-anchor="middle" fill="#1a1a1a">2.0</text>
<text x="521.13" y="705.80" font-size="14.0" text-anchor="middle" fill="#1a1a1a">2.5</text>
<text x="554.90" y="705.80" font-size="14.0" text-anchor="middle" fill="#1a1a1a">3.0</text>
<text x="331.40" y="695.10" font-size="14.0" text-anchor="end" fill="#1a1a1a">0.0</text>
<text x="331.40" y="657.32" font-size="14.0" text-anchor="end" fill="#1a1a1a">0.2</text>
<text x="331.40" y="619.54" font-size="14.0" text-anchor="end" fill="#1a1a1a">0.4</text>
<text x="331.40" y="581.76" font-size="14.0" text-anchor="end" fill="#1a1a1a">0.6</text>
<text x="331.40" y="543.98" font-size="14.0" text-anchor="end" fill="#1a1a1a">0.8</text>
<text x="331.40" y="506.20" font-size="14.0" text-anchor="end" fill="#1a1a1a">1.0</text>
<path d="M352.30,690.40v-3.6 M386.07,690.40v-3.6 M419.83,690.40v-3.6 M453.60,690.40v-3.6 M487.37,690.40v-3.6 M521.13,690.40v-3.6 M554.90,690.40v-3.6 M335.50,652.62h3.6 M335.50,614.84h3.6 M335.50,577.06h3.6 M335.50,539.28h3.6" stroke="#1a1a1a" stroke-width="1.2" fill="none"/>
<text transform="translate(305.70,600.15) rotate(-90)" font-size="14.0" fill="#1a1a1a"><tspan font-style="italic">C</tspan><tspan font-size="9" dy="3.8">r</tspan></text>
<text x="453.75" y="718.10" font-size="14.0" text-anchor="middle" fill="#1a1a1a"><tspan font-style="italic">T</tspan>(s)</text>
<text x="363.80" y="516.90" font-size="14.0" fill="#1a1a1a">Peak-Oriented</text>
<text x="363.30" y="533.80" font-size="14.0" fill="#1a1a1a"><tspan font-style="italic">μ</tspan><tspan font-size="9.5" dy="4">u</tspan><tspan dy="-4">=10</tspan></text>
<text x="411.90" y="544.60" font-size="14.0" fill="#1a1a1a"><tspan font-style="italic">DI</tspan>=0.1</text>
<text x="411.90" y="561.50" font-size="14.0" fill="#1a1a1a"><tspan font-style="italic">DI</tspan>=0.5</text>
<text x="411.90" y="577.80" font-size="14.0" fill="#1a1a1a"><tspan font-style="italic">DI</tspan>=1.0</text>
<text x="478.40" y="517.00" font-size="14.0" fill="#1a1a1a">Data</text>
<text x="529.90" y="517.00" font-size="14.0" fill="#1a1a1a">Eq.(4)</text>
<rect x="488.22" y="538.22" width="4.56" height="4.56" fill="#4a4a4a"/>
<line x1="534.20" y1="541.10" x2="565.30" y2="541.10" stroke="#444" stroke-width="1.7"/>
<circle cx="490.50" cy="557.60" r="2.38" fill="#ea3b3b"/>
<line x1="534.20" y1="558.30" x2="565.30" y2="558.30" stroke="#e06060" stroke-width="1.2"/>
<path d="M487.94,575.71L493.06,575.71L490.50,571.09Z" fill="#2161cd"/>
<line x1="534.20" y1="574.70" x2="565.30" y2="574.70" stroke="#2f8be6" stroke-width="1.7"/>
<clipPath id="c22"><rect x="624.7" y="501.5" width="236.5999999999999" height="188.89999999999998"/></clipPath>
<g clip-path="url(#c22)">
<polyline points="647.91,638.83 654.67,650.91 661.42,654.77 668.18,656.62 674.94,657.67 681.70,658.34 688.46,658.79 695.22,659.11 701.98,659.35 708.73,659.52 715.49,659.66 722.25,659.77 729.01,659.86 735.77,659.93 742.52,660.00 749.28,660.06 756.04,660.11 762.80,660.16 769.56,660.21 776.32,660.26 783.07,660.31 789.83,660.37 796.59,660.42 803.35,660.48 810.11,660.55 816.87,660.61 823.62,660.68 830.38,660.76 837.14,660.84 843.90,660.92" fill="none" stroke="#1e1e1e" stroke-width="1.3" stroke-linejoin="round"/>
<polyline points="647.91,550.61 654.67,601.89 661.42,618.55 668.18,626.92 674.94,632.04 681.70,635.55 688.46,638.14 695.22,640.14 701.98,641.76 708.73,643.08 715.49,644.19 722.25,645.12 729.01,645.92 735.77,646.60 742.52,647.17 749.28,647.66 756.04,648.07 762.80,648.40 769.56,648.67 776.32,648.88 783.07,649.02 789.83,649.11 796.59,649.14 803.35,649.13 810.11,649.06 816.87,648.94 823.62,648.78 830.38,648.56 837.14,648.31 843.90,648.00" fill="none" stroke="#e53a3a" stroke-width="1.3" stroke-linejoin="round"/>
<polyline points="647.91,459.94 654.67,558.22 661.42,591.78 668.18,608.45 674.94,618.20 681.70,624.44 688.46,628.66 695.22,631.62 701.98,633.76 708.73,635.32 715.49,636.48 722.25,637.35 729.01,638.00 735.77,638.49 742.52,638.87 749.28,639.16 756.04,639.39 762.80,639.58 769.56,639.75 776.32,639.90 783.07,640.04 789.83,640.18 796.59,640.34 803.35,640.51 810.11,640.70 816.87,640.92 823.62,641.16 830.38,641.44 837.14,641.74 843.90,642.09" fill="none" stroke="#2b87e3" stroke-width="1.3" stroke-linejoin="round"/>
<rect x="645.51" y="642.66" width="4.80" height="4.80" fill="#4a4a4a"/>
<rect x="652.27" y="653.43" width="4.80" height="4.80" fill="#4a4a4a"/>
<rect x="659.02" y="656.83" width="4.80" height="4.80" fill="#4a4a4a"/>
<rect x="665.78" y="658.34" width="4.80" height="4.80" fill="#4a4a4a"/>
<rect x="672.54" y="658.39" width="4.80" height="4.80" fill="#4a4a4a"/>
<rect x="679.30" y="658.45" width="4.80" height="4.80" fill="#4a4a4a"/>
<rect x="686.06" y="658.50" width="4.80" height="4.80" fill="#4a4a4a"/>
<rect x="692.82" y="658.55" width="4.80" height="4.80" fill="#4a4a4a"/>
<rect x="699.58" y="658.60" width="4.80" height="4.80" fill="#4a4a4a"/>
<rect x="706.33" y="658.65" width="4.80" height="4.80" fill="#4a4a4a"/>
<rect x="713.09" y="658.70" width="4.80" height="4.80" fill="#4a4a4a"/>
<rect x="719.85" y="658.75" width="4.80" height="4.80" fill="#4a4a4a"/>
<rect x="726.61" y="658.81" width="4.80" height="4.80" fill="#4a4a4a"/>
<rect x="733.37" y="658.86" width="4.80" height="4.80" fill="#4a4a4a"/>
<rect x="740.12" y="658.91" width="4.80" height="4.80" fill="#4a4a4a"/>
<rect x="746.88" y="658.15" width="4.80" height="4.80" fill="#4a4a4a"/>
<rect x="753.64" y="657.59" width="4.80" height="4.80" fill="#4a4a4a"/>
<rect x="760.40" y="657.44" width="4.80" height="4.80" fill="#4a4a4a"/>
<rect x="767.16" y="657.28" width="4.80" height="4.80" fill="#4a4a4a"/>
<rect x="773.92" y="657.13" width="4.80" height="4.80" fill="#4a4a4a"/>
<rect x="780.67" y="656.98" width="4.80" height="4.80" fill="#4a4a4a"/>
<rect x="787.43" y="656.83" width="4.80" height="4.80" fill="#4a4a4a"/>
<rect x="794.19" y="657.02" width="4.80" height="4.80" fill="#4a4a4a"/>
<rect x="800.95" y="657.21" width="4.80" height="4.80" fill="#4a4a4a"/>
<rect x="807.71" y="657.40" width="4.80" height="4.80" fill="#4a4a4a"/>
<rect x="814.47" y="657.59" width="4.80" height="4.80" fill="#4a4a4a"/>
<rect x="821.23" y="657.78" width="4.80" height="4.80" fill="#4a4a4a"/>
<rect x="827.98" y="657.96" width="4.80" height="4.80" fill="#4a4a4a"/>
<rect x="834.74" y="658.15" width="4.80" height="4.80" fill="#4a4a4a"/>
<rect x="841.50" y="658.91" width="4.80" height="4.80" fill="#4a4a4a"/>
<circle cx="647.91" cy="550.61" r="2.50" fill="#ea3b3b"/>
<circle cx="654.67" cy="604.07" r="2.50" fill="#ea3b3b"/>
<circle cx="661.42" cy="617.67" r="2.50" fill="#ea3b3b"/>
<circle cx="668.18" cy="628.44" r="2.50" fill="#ea3b3b"/>
<circle cx="674.94" cy="633.92" r="2.50" fill="#ea3b3b"/>
<circle cx="681.70" cy="640.15" r="2.50" fill="#ea3b3b"/>
<circle cx="688.46" cy="640.15" r="2.50" fill="#ea3b3b"/>
<circle cx="695.22" cy="642.61" r="2.50" fill="#ea3b3b"/>
<circle cx="701.98" cy="644.69" r="2.50" fill="#ea3b3b"/>
<circle cx="708.73" cy="646.20" r="2.50" fill="#ea3b3b"/>
<circle cx="715.49" cy="648.84" r="2.50" fill="#ea3b3b"/>
<circle cx="722.25" cy="648.84" r="2.50" fill="#ea3b3b"/>
<circle cx="729.01" cy="648.28" r="2.50" fill="#ea3b3b"/>
<circle cx="735.77" cy="648.84" r="2.50" fill="#ea3b3b"/>
<circle cx="742.52" cy="648.28" r="2.50" fill="#ea3b3b"/>
<circle cx="749.28" cy="645.82" r="2.50" fill="#ea3b3b"/>
<circle cx="756.04" cy="646.58" r="2.50" fill="#ea3b3b"/>
<circle cx="762.80" cy="645.82" r="2.50" fill="#ea3b3b"/>
<circle cx="769.56" cy="645.63" r="2.50" fill="#ea3b3b"/>
<circle cx="776.32" cy="646.95" r="2.50" fill="#ea3b3b"/>
<circle cx="783.07" cy="646.20" r="2.50" fill="#ea3b3b"/>
<circle cx="789.83" cy="646.95" r="2.50" fill="#ea3b3b"/>
<circle cx="796.59" cy="646.20" r="2.50" fill="#ea3b3b"/>
<circle cx="803.35" cy="645.63" r="2.50" fill="#ea3b3b"/>
<circle cx="810.11" cy="645.25" r="2.50" fill="#ea3b3b"/>
<circle cx="816.87" cy="645.25" r="2.50" fill="#ea3b3b"/>
<circle cx="823.62" cy="645.25" r="2.50" fill="#ea3b3b"/>
<circle cx="830.38" cy="645.63" r="2.50" fill="#ea3b3b"/>
<circle cx="837.14" cy="645.82" r="2.50" fill="#ea3b3b"/>
<circle cx="843.90" cy="646.20" r="2.50" fill="#ea3b3b"/>
<path d="M645.21,465.85L650.61,465.85L647.91,460.99Z" fill="#2161cd"/>
<path d="M651.97,560.87L657.37,560.87L654.67,556.01Z" fill="#2161cd"/>
<path d="M658.72,595.81L664.12,595.81L661.42,590.95Z" fill="#2161cd"/>
<path d="M665.48,612.44L670.88,612.44L668.18,607.58Z" fill="#2161cd"/>
<path d="M672.24,626.04L677.64,626.04L674.94,621.18Z" fill="#2161cd"/>
<path d="M679.00,630.57L684.40,630.57L681.70,625.71Z" fill="#2161cd"/>
<path d="M685.76,636.05L691.16,636.05L688.46,631.19Z" fill="#2161cd"/>
<path d="M692.52,638.50L697.92,638.50L695.22,633.64Z" fill="#2161cd"/>
<path d="M699.27,639.64L704.68,639.64L701.98,634.78Z" fill="#2161cd"/>
<path d="M706.03,640.96L711.43,640.96L708.73,636.10Z" fill="#2161cd"/>
<path d="M712.79,642.28L718.19,642.28L715.49,637.42Z" fill="#2161cd"/>
<path d="M719.55,643.04L724.95,643.04L722.25,638.18Z" fill="#2161cd"/>
<path d="M726.31,642.28L731.71,642.28L729.01,637.42Z" fill="#2161cd"/>
<path d="M733.07,641.53L738.47,641.53L735.77,636.67Z" fill="#2161cd"/>
<path d="M739.82,641.34L745.23,641.34L742.52,636.48Z" fill="#2161cd"/>
<path d="M746.58,641.34L751.98,641.34L749.28,636.48Z" fill="#2161cd"/>
<path d="M753.34,642.09L758.74,642.09L756.04,637.23Z" fill="#2161cd"/>
<path d="M760.10,639.83L765.50,639.83L762.80,634.97Z" fill="#2161cd"/>
<path d="M766.86,639.83L772.26,639.83L769.56,634.97Z" fill="#2161cd"/>
<path d="M773.62,639.83L779.02,639.83L776.32,634.97Z" fill="#2161cd"/>
<path d="M780.37,640.02L785.77,640.02L783.07,635.16Z" fill="#2161cd"/>
<path d="M787.13,640.39L792.53,640.39L789.83,635.53Z" fill="#2161cd"/>
<path d="M793.89,640.02L799.29,640.02L796.59,635.16Z" fill="#2161cd"/>
<path d="M800.65,641.34L806.05,641.34L803.35,636.48Z" fill="#2161cd"/>
<path d="M807.41,643.04L812.81,643.04L810.11,638.18Z" fill="#2161cd"/>
<path d="M814.17,643.60L819.57,643.60L816.87,638.74Z" fill="#2161cd"/>
<path d="M820.92,645.30L826.33,645.30L823.62,640.45Z" fill="#2161cd"/>
<path d="M827.68,646.06L833.08,646.06L830.38,641.20Z" fill="#2161cd"/>
<path d="M834.44,646.25L839.84,646.25L837.14,641.39Z" fill="#2161cd"/>
<path d="M841.20,647.01L846.60,647.01L843.90,642.15Z" fill="#2161cd"/>
</g>
<rect x="624.7" y="501.5" width="236.6" height="188.9" fill="none" stroke="#1a1a1a" stroke-width="1.2"/>
<text x="641.55" y="705.80" font-size="14.0" text-anchor="middle" fill="#1a1a1a">0.0</text>
<text x="675.34" y="705.80" font-size="14.0" text-anchor="middle" fill="#1a1a1a">0.5</text>
<text x="709.13" y="705.80" font-size="14.0" text-anchor="middle" fill="#1a1a1a">1.0</text>
<text x="742.92" y="705.80" font-size="14.0" text-anchor="middle" fill="#1a1a1a">1.5</text>
<text x="776.72" y="705.80" font-size="14.0" text-anchor="middle" fill="#1a1a1a">2.0</text>
<text x="810.51" y="705.80" font-size="14.0" text-anchor="middle" fill="#1a1a1a">2.5</text>
<text x="844.30" y="705.80" font-size="14.0" text-anchor="middle" fill="#1a1a1a">3.0</text>
<text x="620.60" y="695.10" font-size="14.0" text-anchor="end" fill="#1a1a1a">0.0</text>
<text x="620.60" y="657.32" font-size="14.0" text-anchor="end" fill="#1a1a1a">0.2</text>
<text x="620.60" y="619.54" font-size="14.0" text-anchor="end" fill="#1a1a1a">0.4</text>
<text x="620.60" y="581.76" font-size="14.0" text-anchor="end" fill="#1a1a1a">0.6</text>
<text x="620.60" y="543.98" font-size="14.0" text-anchor="end" fill="#1a1a1a">0.8</text>
<text x="620.60" y="506.20" font-size="14.0" text-anchor="end" fill="#1a1a1a">1.0</text>
<path d="M641.55,690.40v-3.6 M675.34,690.40v-3.6 M709.13,690.40v-3.6 M742.92,690.40v-3.6 M776.72,690.40v-3.6 M810.51,690.40v-3.6 M844.30,690.40v-3.6 M624.70,652.62h3.6 M624.70,614.84h3.6 M624.70,577.06h3.6 M624.70,539.28h3.6" stroke="#1a1a1a" stroke-width="1.2" fill="none"/>
<text transform="translate(596.70,601.00) rotate(-90)" font-size="14.0" fill="#1a1a1a"><tspan font-style="italic">C</tspan><tspan font-size="9" dy="3.8">r</tspan></text>
<text x="743.00" y="718.10" font-size="14.0" text-anchor="middle" fill="#1a1a1a"><tspan font-style="italic">T</tspan>(s)</text>
<text x="655.20" y="516.90" font-size="14.0" fill="#1a1a1a">Peak-Oriented</text>
<text x="654.90" y="533.80" font-size="14.0" fill="#1a1a1a"><tspan font-style="italic">μ</tspan><tspan font-size="9.5" dy="4">u</tspan><tspan dy="-4">=14</tspan></text>
<text x="709.50" y="544.80" font-size="14.0" fill="#1a1a1a"><tspan font-style="italic">DI</tspan>=0.1</text>
<text x="709.50" y="561.50" font-size="14.0" fill="#1a1a1a"><tspan font-style="italic">DI</tspan>=0.5</text>
<text x="709.50" y="578.00" font-size="14.0" fill="#1a1a1a"><tspan font-style="italic">DI</tspan>=1.0</text>
<text x="766.80" y="517.00" font-size="14.0" fill="#1a1a1a">Data</text>
<text x="818.30" y="517.00" font-size="14.0" fill="#1a1a1a">Eq.(4)</text>
<rect x="779.12" y="539.92" width="4.56" height="4.56" fill="#4a4a4a"/>
<line x1="824.30" y1="542.20" x2="855.80" y2="542.20" stroke="#222" stroke-width="1.1"/>
<circle cx="781.40" cy="559.10" r="2.38" fill="#ea3b3b"/>
<line x1="824.30" y1="559.10" x2="855.80" y2="559.10" stroke="#d03030" stroke-width="1.5"/>
<path d="M778.83,577.91L783.97,577.91L781.40,573.29Z" fill="#2161cd"/>
<line x1="824.30" y1="576.20" x2="855.80" y2="576.20" stroke="#2f8be6" stroke-width="1.0"/>
</svg></body></html>
